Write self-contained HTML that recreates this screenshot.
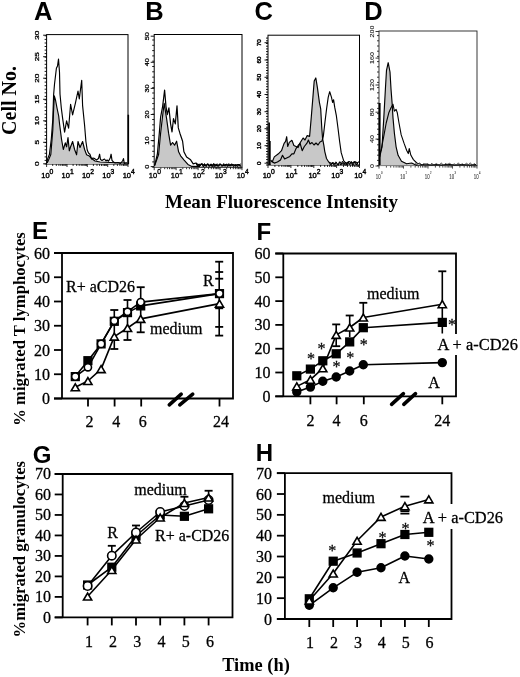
<!DOCTYPE html>
<html><head><meta charset="utf-8"><style>
html,body{margin:0;padding:0;background:#fff;}
svg{display:block;will-change:transform;}
</style></head><body>
<svg width="520" height="677" viewBox="0 0 520 677">
<rect width="520" height="677" fill="#fff"/>
<text x="33.9" y="20.4" font-family='"Liberation Sans", sans-serif' font-size="25.5" font-weight="bold" text-anchor="start" >A</text>
<text x="145.2" y="19.6" font-family='"Liberation Sans", sans-serif' font-size="25.5" font-weight="bold" text-anchor="start" >B</text>
<text x="254.6" y="19.6" font-family='"Liberation Sans", sans-serif' font-size="25.5" font-weight="bold" text-anchor="start" >C</text>
<text x="364.3" y="19.5" font-family='"Liberation Sans", sans-serif' font-size="25.5" font-weight="bold" text-anchor="start" >D</text>
<text x="32" y="238.8" font-family='"Liberation Sans", sans-serif' font-size="24" font-weight="bold" text-anchor="start" >E</text>
<text x="256.6" y="240.1" font-family='"Liberation Sans", sans-serif' font-size="24" font-weight="bold" text-anchor="start" >F</text>
<text x="32.8" y="462.6" font-family='"Liberation Sans", sans-serif' font-size="24" font-weight="bold" text-anchor="start" >G</text>
<text x="255.8" y="461.0" font-family='"Liberation Sans", sans-serif' font-size="24" font-weight="bold" text-anchor="start" >H</text>
<rect x="46.6" y="34.6" width="81.4" height="129.4" fill="none" stroke="#000" stroke-width="1.0"/>
<line x1="44.6" y1="164" x2="46.6" y2="164" stroke="#000" stroke-width="0.9"/>
<line x1="44.6" y1="160.4" x2="46.6" y2="160.4" stroke="#000" stroke-width="0.9"/>
<line x1="44.6" y1="156.9" x2="46.6" y2="156.9" stroke="#000" stroke-width="0.9"/>
<line x1="44.6" y1="153.3" x2="46.6" y2="153.3" stroke="#000" stroke-width="0.9"/>
<line x1="44.6" y1="149.8" x2="46.6" y2="149.8" stroke="#000" stroke-width="0.9"/>
<line x1="44.6" y1="146.2" x2="46.6" y2="146.2" stroke="#000" stroke-width="0.9"/>
<line x1="44.6" y1="142.6" x2="46.6" y2="142.6" stroke="#000" stroke-width="0.9"/>
<line x1="44.6" y1="139.1" x2="46.6" y2="139.1" stroke="#000" stroke-width="0.9"/>
<line x1="44.6" y1="135.5" x2="46.6" y2="135.5" stroke="#000" stroke-width="0.9"/>
<line x1="44.6" y1="132.0" x2="46.6" y2="132.0" stroke="#000" stroke-width="0.9"/>
<line x1="44.6" y1="128.4" x2="46.6" y2="128.4" stroke="#000" stroke-width="0.9"/>
<line x1="44.6" y1="124.8" x2="46.6" y2="124.8" stroke="#000" stroke-width="0.9"/>
<line x1="44.6" y1="121.3" x2="46.6" y2="121.3" stroke="#000" stroke-width="0.9"/>
<line x1="44.6" y1="117.7" x2="46.6" y2="117.7" stroke="#000" stroke-width="0.9"/>
<line x1="44.6" y1="114.2" x2="46.6" y2="114.2" stroke="#000" stroke-width="0.9"/>
<line x1="44.6" y1="110.6" x2="46.6" y2="110.6" stroke="#000" stroke-width="0.9"/>
<line x1="44.6" y1="107.0" x2="46.6" y2="107.0" stroke="#000" stroke-width="0.9"/>
<line x1="44.6" y1="103.5" x2="46.6" y2="103.5" stroke="#000" stroke-width="0.9"/>
<line x1="44.6" y1="99.9" x2="46.6" y2="99.9" stroke="#000" stroke-width="0.9"/>
<line x1="44.6" y1="96.4" x2="46.6" y2="96.4" stroke="#000" stroke-width="0.9"/>
<line x1="44.6" y1="92.8" x2="46.6" y2="92.8" stroke="#000" stroke-width="0.9"/>
<line x1="44.6" y1="89.2" x2="46.6" y2="89.2" stroke="#000" stroke-width="0.9"/>
<line x1="44.6" y1="85.7" x2="46.6" y2="85.7" stroke="#000" stroke-width="0.9"/>
<line x1="44.6" y1="82.1" x2="46.6" y2="82.1" stroke="#000" stroke-width="0.9"/>
<line x1="44.6" y1="78.6" x2="46.6" y2="78.6" stroke="#000" stroke-width="0.9"/>
<line x1="44.6" y1="75.0" x2="46.6" y2="75.0" stroke="#000" stroke-width="0.9"/>
<line x1="44.6" y1="71.4" x2="46.6" y2="71.4" stroke="#000" stroke-width="0.9"/>
<line x1="44.6" y1="67.9" x2="46.6" y2="67.9" stroke="#000" stroke-width="0.9"/>
<line x1="44.6" y1="64.3" x2="46.6" y2="64.3" stroke="#000" stroke-width="0.9"/>
<line x1="44.6" y1="60.8" x2="46.6" y2="60.8" stroke="#000" stroke-width="0.9"/>
<line x1="44.6" y1="57.2" x2="46.6" y2="57.2" stroke="#000" stroke-width="0.9"/>
<line x1="44.6" y1="53.6" x2="46.6" y2="53.6" stroke="#000" stroke-width="0.9"/>
<line x1="44.6" y1="50.1" x2="46.6" y2="50.1" stroke="#000" stroke-width="0.9"/>
<line x1="44.6" y1="46.5" x2="46.6" y2="46.5" stroke="#000" stroke-width="0.9"/>
<line x1="44.6" y1="43.0" x2="46.6" y2="43.0" stroke="#000" stroke-width="0.9"/>
<line x1="44.6" y1="39.4" x2="46.6" y2="39.4" stroke="#000" stroke-width="0.9"/>
<line x1="44.6" y1="35.8" x2="46.6" y2="35.8" stroke="#000" stroke-width="0.9"/>
<text transform="translate(37.6,35.2) rotate(-90) scale(1,0.72)" font-family='"Liberation Sans", sans-serif' font-size="8.2" text-anchor="middle" dominant-baseline="central" fill="#000" stroke="#000" stroke-width="0.4">30</text>
<line x1="43.1" y1="35.2" x2="46.6" y2="35.2" stroke="#000" stroke-width="0.9"/>
<text transform="translate(37.6,56.7) rotate(-90) scale(1,0.72)" font-family='"Liberation Sans", sans-serif' font-size="8.2" text-anchor="middle" dominant-baseline="central" fill="#000" stroke="#000" stroke-width="0.4">25</text>
<line x1="43.1" y1="56.7" x2="46.6" y2="56.7" stroke="#000" stroke-width="0.9"/>
<text transform="translate(37.6,78.2) rotate(-90) scale(1,0.72)" font-family='"Liberation Sans", sans-serif' font-size="8.2" text-anchor="middle" dominant-baseline="central" fill="#000" stroke="#000" stroke-width="0.4">20</text>
<line x1="43.1" y1="78.2" x2="46.6" y2="78.2" stroke="#000" stroke-width="0.9"/>
<text transform="translate(37.6,99.3) rotate(-90) scale(1,0.72)" font-family='"Liberation Sans", sans-serif' font-size="8.2" text-anchor="middle" dominant-baseline="central" fill="#000" stroke="#000" stroke-width="0.4">15</text>
<line x1="43.1" y1="99.3" x2="46.6" y2="99.3" stroke="#000" stroke-width="0.9"/>
<text transform="translate(37.6,120.8) rotate(-90) scale(1,0.72)" font-family='"Liberation Sans", sans-serif' font-size="8.2" text-anchor="middle" dominant-baseline="central" fill="#000" stroke="#000" stroke-width="0.4">10</text>
<line x1="43.1" y1="120.8" x2="46.6" y2="120.8" stroke="#000" stroke-width="0.9"/>
<text transform="translate(37.6,142.3) rotate(-90) scale(1,0.72)" font-family='"Liberation Sans", sans-serif' font-size="8.2" text-anchor="middle" dominant-baseline="central" fill="#000" stroke="#000" stroke-width="0.4">5</text>
<line x1="43.1" y1="142.3" x2="46.6" y2="142.3" stroke="#000" stroke-width="0.9"/>
<text transform="translate(37.6,163.8) rotate(-90) scale(1,0.72)" font-family='"Liberation Sans", sans-serif' font-size="8.2" text-anchor="middle" dominant-baseline="central" fill="#000" stroke="#000" stroke-width="0.4">0</text>
<line x1="43.1" y1="163.8" x2="46.6" y2="163.8" stroke="#000" stroke-width="0.9"/>
<line x1="46.6" y1="164" x2="46.6" y2="167" stroke="#000" stroke-width="0.8"/>
<line x1="52.7" y1="164" x2="52.7" y2="166" stroke="#000" stroke-width="0.8"/>
<line x1="56.3" y1="164" x2="56.3" y2="166" stroke="#000" stroke-width="0.8"/>
<line x1="58.9" y1="164" x2="58.9" y2="166" stroke="#000" stroke-width="0.8"/>
<line x1="60.8" y1="164" x2="60.8" y2="166" stroke="#000" stroke-width="0.8"/>
<line x1="62.4" y1="164" x2="62.4" y2="166" stroke="#000" stroke-width="0.8"/>
<line x1="63.8" y1="164" x2="63.8" y2="166" stroke="#000" stroke-width="0.8"/>
<line x1="65.0" y1="164" x2="65.0" y2="166" stroke="#000" stroke-width="0.8"/>
<line x1="66.0" y1="164" x2="66.0" y2="166" stroke="#000" stroke-width="0.8"/>
<line x1="67.0" y1="164" x2="67.0" y2="167" stroke="#000" stroke-width="0.8"/>
<line x1="73.1" y1="164" x2="73.1" y2="166" stroke="#000" stroke-width="0.8"/>
<line x1="76.7" y1="164" x2="76.7" y2="166" stroke="#000" stroke-width="0.8"/>
<line x1="79.2" y1="164" x2="79.2" y2="166" stroke="#000" stroke-width="0.8"/>
<line x1="81.2" y1="164" x2="81.2" y2="166" stroke="#000" stroke-width="0.8"/>
<line x1="82.8" y1="164" x2="82.8" y2="166" stroke="#000" stroke-width="0.8"/>
<line x1="84.1" y1="164" x2="84.1" y2="166" stroke="#000" stroke-width="0.8"/>
<line x1="85.3" y1="164" x2="85.3" y2="166" stroke="#000" stroke-width="0.8"/>
<line x1="86.4" y1="164" x2="86.4" y2="166" stroke="#000" stroke-width="0.8"/>
<line x1="87.3" y1="164" x2="87.3" y2="167" stroke="#000" stroke-width="0.8"/>
<line x1="93.4" y1="164" x2="93.4" y2="166" stroke="#000" stroke-width="0.8"/>
<line x1="97.0" y1="164" x2="97.0" y2="166" stroke="#000" stroke-width="0.8"/>
<line x1="99.6" y1="164" x2="99.6" y2="166" stroke="#000" stroke-width="0.8"/>
<line x1="101.5" y1="164" x2="101.5" y2="166" stroke="#000" stroke-width="0.8"/>
<line x1="103.1" y1="164" x2="103.1" y2="166" stroke="#000" stroke-width="0.8"/>
<line x1="104.5" y1="164" x2="104.5" y2="166" stroke="#000" stroke-width="0.8"/>
<line x1="105.7" y1="164" x2="105.7" y2="166" stroke="#000" stroke-width="0.8"/>
<line x1="106.7" y1="164" x2="106.7" y2="166" stroke="#000" stroke-width="0.8"/>
<line x1="107.7" y1="164" x2="107.7" y2="167" stroke="#000" stroke-width="0.8"/>
<line x1="113.8" y1="164" x2="113.8" y2="166" stroke="#000" stroke-width="0.8"/>
<line x1="117.4" y1="164" x2="117.4" y2="166" stroke="#000" stroke-width="0.8"/>
<line x1="119.9" y1="164" x2="119.9" y2="166" stroke="#000" stroke-width="0.8"/>
<line x1="121.9" y1="164" x2="121.9" y2="166" stroke="#000" stroke-width="0.8"/>
<line x1="123.5" y1="164" x2="123.5" y2="166" stroke="#000" stroke-width="0.8"/>
<line x1="124.8" y1="164" x2="124.8" y2="166" stroke="#000" stroke-width="0.8"/>
<line x1="126.0" y1="164" x2="126.0" y2="166" stroke="#000" stroke-width="0.8"/>
<line x1="127.1" y1="164" x2="127.1" y2="166" stroke="#000" stroke-width="0.8"/>
<line x1="128" y1="164" x2="128" y2="167" stroke="#000" stroke-width="0.8"/>
<text transform="translate(45.4,177.8) scale(1.0,1)" font-family='"Liberation Sans", sans-serif' font-size="7.5" text-anchor="middle" fill="#000" stroke="#000" stroke-width="0.4">10</text>
<text transform="translate(51.4,173.5) scale(1.0,1)" font-family='"Liberation Sans", sans-serif' font-size="6.75" text-anchor="middle" fill="#000" stroke="#000" stroke-width="0.4">0</text>
<text transform="translate(65.75,177.8) scale(1.0,1)" font-family='"Liberation Sans", sans-serif' font-size="7.5" text-anchor="middle" fill="#000" stroke="#000" stroke-width="0.4">10</text>
<text transform="translate(71.75,173.5) scale(1.0,1)" font-family='"Liberation Sans", sans-serif' font-size="6.75" text-anchor="middle" fill="#000" stroke="#000" stroke-width="0.4">1</text>
<text transform="translate(86.10000000000001,177.8) scale(1.0,1)" font-family='"Liberation Sans", sans-serif' font-size="7.5" text-anchor="middle" fill="#000" stroke="#000" stroke-width="0.4">10</text>
<text transform="translate(92.10000000000001,173.5) scale(1.0,1)" font-family='"Liberation Sans", sans-serif' font-size="6.75" text-anchor="middle" fill="#000" stroke="#000" stroke-width="0.4">2</text>
<text transform="translate(106.45,177.8) scale(1.0,1)" font-family='"Liberation Sans", sans-serif' font-size="7.5" text-anchor="middle" fill="#000" stroke="#000" stroke-width="0.4">10</text>
<text transform="translate(112.45,173.5) scale(1.0,1)" font-family='"Liberation Sans", sans-serif' font-size="6.75" text-anchor="middle" fill="#000" stroke="#000" stroke-width="0.4">3</text>
<text transform="translate(126.8,177.8) scale(1.0,1)" font-family='"Liberation Sans", sans-serif' font-size="7.5" text-anchor="middle" fill="#000" stroke="#000" stroke-width="0.4">10</text>
<text transform="translate(132.8,173.5) scale(1.0,1)" font-family='"Liberation Sans", sans-serif' font-size="6.75" text-anchor="middle" fill="#000" stroke="#000" stroke-width="0.4">4</text>
<polygon points="47.0,164.0 47.0,163.0 48.4,160.4 50.8,154.5 52.8,130.0 53.5,112.0 54.3,95.8 55.5,100.0 57.0,108.0 58.7,116.0 59.6,124.3 61.5,139.0 63.3,149.5 65.3,142.8 66.6,146.8 68.0,137.5 69.3,150.8 70.6,146.8 72.6,141.5 74.6,149.5 76.6,154.8 78.0,141.5 80.0,147.5 82.6,141.5 84.6,149.5 86.6,154.8 89.3,156.1 91.9,158.8 95.0,161.0 100.0,162.0 110.0,162.5 127.0,163.0 127.0,164.0" fill="#c8c8c8" stroke="none" stroke-width="0" stroke-linejoin="round"/>
<polyline points="47.0,163.0 48.4,160.4 50.8,154.5 52.8,130.0 53.5,112.0 54.3,95.8 55.5,100.0 57.0,108.0 58.7,116.0 59.6,124.3 61.5,139.0 63.3,149.5 65.3,142.8 66.6,146.8 68.0,137.5 69.3,150.8 70.6,146.8 72.6,141.5 74.6,149.5 76.6,154.8 78.0,141.5 80.0,147.5 82.6,141.5 84.6,149.5 86.6,154.8 89.3,156.1 91.9,158.8 95.0,161.0 100.0,162.0 110.0,162.5 127.0,163.0" fill="none" stroke="#000" stroke-width="1.15" stroke-linejoin="round"/>
<polyline points="47.0,163.0 47.4,159.4 49.4,154.5 51.3,139.0 52.8,119.5 53.6,95.0 54.5,84.3 56.4,68.3 57.5,66.0 58.5,59.0 59.5,72.3 60.0,94.0 61.3,108.0 62.7,118.9 64.6,132.2 66.6,120.9 68.6,128.2 70.6,104.3 72.6,114.9 75.3,103.6 78.0,91.0 79.3,98.9 81.7,80.3 82.6,105.6 84.6,125.5 85.9,141.5 87.2,150.0 88.5,153.0 89.9,154.2 91.6,159.0 93.0,158.0 94.7,158.6 96.5,160.0 98.5,158.5 99.6,154.2 100.5,159.5 102.0,160.5 104.5,159.0 106.0,161.0 107.1,160.0 108.5,161.2 110.2,158.0 111.1,154.2 112.0,160.4 113.5,162.0 115.1,163.0 118.0,162.5 120.4,163.5 122.5,161.0 123.5,158.6 124.3,163.5 126.0,163.0 127.5,163.0" fill="none" stroke="#000" stroke-width="1.15" stroke-linejoin="round"/>
<line x1="128.3" y1="114.7" x2="128.3" y2="164" stroke="#000" stroke-width="1.6"/>
<rect x="154.2" y="34.5" width="87.80000000000001" height="132.7" fill="none" stroke="#000" stroke-width="1.0"/>
<line x1="152.2" y1="167.2" x2="154.2" y2="167.2" stroke="#000" stroke-width="0.9"/>
<line x1="152.2" y1="161.9" x2="154.2" y2="161.9" stroke="#000" stroke-width="0.9"/>
<line x1="152.2" y1="156.6" x2="154.2" y2="156.6" stroke="#000" stroke-width="0.9"/>
<line x1="152.2" y1="151.3" x2="154.2" y2="151.3" stroke="#000" stroke-width="0.9"/>
<line x1="152.2" y1="146.0" x2="154.2" y2="146.0" stroke="#000" stroke-width="0.9"/>
<line x1="152.2" y1="140.7" x2="154.2" y2="140.7" stroke="#000" stroke-width="0.9"/>
<line x1="152.2" y1="135.4" x2="154.2" y2="135.4" stroke="#000" stroke-width="0.9"/>
<line x1="152.2" y1="130.1" x2="154.2" y2="130.1" stroke="#000" stroke-width="0.9"/>
<line x1="152.2" y1="124.8" x2="154.2" y2="124.8" stroke="#000" stroke-width="0.9"/>
<line x1="152.2" y1="119.5" x2="154.2" y2="119.5" stroke="#000" stroke-width="0.9"/>
<line x1="152.2" y1="114.2" x2="154.2" y2="114.2" stroke="#000" stroke-width="0.9"/>
<line x1="152.2" y1="108.9" x2="154.2" y2="108.9" stroke="#000" stroke-width="0.9"/>
<line x1="152.2" y1="103.6" x2="154.2" y2="103.6" stroke="#000" stroke-width="0.9"/>
<line x1="152.2" y1="98.3" x2="154.2" y2="98.3" stroke="#000" stroke-width="0.9"/>
<line x1="152.2" y1="93.0" x2="154.2" y2="93.0" stroke="#000" stroke-width="0.9"/>
<line x1="152.2" y1="87.7" x2="154.2" y2="87.7" stroke="#000" stroke-width="0.9"/>
<line x1="152.2" y1="82.4" x2="154.2" y2="82.4" stroke="#000" stroke-width="0.9"/>
<line x1="152.2" y1="77.1" x2="154.2" y2="77.1" stroke="#000" stroke-width="0.9"/>
<line x1="152.2" y1="71.8" x2="154.2" y2="71.8" stroke="#000" stroke-width="0.9"/>
<line x1="152.2" y1="66.5" x2="154.2" y2="66.5" stroke="#000" stroke-width="0.9"/>
<line x1="152.2" y1="61.2" x2="154.2" y2="61.2" stroke="#000" stroke-width="0.9"/>
<line x1="152.2" y1="55.9" x2="154.2" y2="55.9" stroke="#000" stroke-width="0.9"/>
<line x1="152.2" y1="50.6" x2="154.2" y2="50.6" stroke="#000" stroke-width="0.9"/>
<line x1="152.2" y1="45.3" x2="154.2" y2="45.3" stroke="#000" stroke-width="0.9"/>
<line x1="152.2" y1="40.0" x2="154.2" y2="40.0" stroke="#000" stroke-width="0.9"/>
<text transform="translate(146.4,36.2) rotate(-90) scale(1,0.75)" font-family='"Liberation Sans", sans-serif' font-size="7.3" text-anchor="middle" dominant-baseline="central" fill="#000" stroke="#000" stroke-width="0.35">50</text>
<line x1="150.7" y1="36.2" x2="154.2" y2="36.2" stroke="#000" stroke-width="0.9"/>
<text transform="translate(146.4,62.3) rotate(-90) scale(1,0.75)" font-family='"Liberation Sans", sans-serif' font-size="7.3" text-anchor="middle" dominant-baseline="central" fill="#000" stroke="#000" stroke-width="0.35">40</text>
<line x1="150.7" y1="62.3" x2="154.2" y2="62.3" stroke="#000" stroke-width="0.9"/>
<text transform="translate(146.4,88.4) rotate(-90) scale(1,0.75)" font-family='"Liberation Sans", sans-serif' font-size="7.3" text-anchor="middle" dominant-baseline="central" fill="#000" stroke="#000" stroke-width="0.35">30</text>
<line x1="150.7" y1="88.4" x2="154.2" y2="88.4" stroke="#000" stroke-width="0.9"/>
<text transform="translate(146.4,114.5) rotate(-90) scale(1,0.75)" font-family='"Liberation Sans", sans-serif' font-size="7.3" text-anchor="middle" dominant-baseline="central" fill="#000" stroke="#000" stroke-width="0.35">20</text>
<line x1="150.7" y1="114.5" x2="154.2" y2="114.5" stroke="#000" stroke-width="0.9"/>
<text transform="translate(146.4,140.6) rotate(-90) scale(1,0.75)" font-family='"Liberation Sans", sans-serif' font-size="7.3" text-anchor="middle" dominant-baseline="central" fill="#000" stroke="#000" stroke-width="0.35">10</text>
<line x1="150.7" y1="140.6" x2="154.2" y2="140.6" stroke="#000" stroke-width="0.9"/>
<text transform="translate(146.4,166.6) rotate(-90) scale(1,0.75)" font-family='"Liberation Sans", sans-serif' font-size="7.3" text-anchor="middle" dominant-baseline="central" fill="#000" stroke="#000" stroke-width="0.35">0</text>
<line x1="150.7" y1="166.6" x2="154.2" y2="166.6" stroke="#000" stroke-width="0.9"/>
<line x1="154.2" y1="167.2" x2="154.2" y2="170.2" stroke="#000" stroke-width="0.8"/>
<line x1="160.8" y1="167.2" x2="160.8" y2="169.2" stroke="#000" stroke-width="0.8"/>
<line x1="164.7" y1="167.2" x2="164.7" y2="169.2" stroke="#000" stroke-width="0.8"/>
<line x1="167.4" y1="167.2" x2="167.4" y2="169.2" stroke="#000" stroke-width="0.8"/>
<line x1="169.5" y1="167.2" x2="169.5" y2="169.2" stroke="#000" stroke-width="0.8"/>
<line x1="171.3" y1="167.2" x2="171.3" y2="169.2" stroke="#000" stroke-width="0.8"/>
<line x1="172.7" y1="167.2" x2="172.7" y2="169.2" stroke="#000" stroke-width="0.8"/>
<line x1="174.0" y1="167.2" x2="174.0" y2="169.2" stroke="#000" stroke-width="0.8"/>
<line x1="175.1" y1="167.2" x2="175.1" y2="169.2" stroke="#000" stroke-width="0.8"/>
<line x1="176.1" y1="167.2" x2="176.1" y2="170.2" stroke="#000" stroke-width="0.8"/>
<line x1="182.8" y1="167.2" x2="182.8" y2="169.2" stroke="#000" stroke-width="0.8"/>
<line x1="186.6" y1="167.2" x2="186.6" y2="169.2" stroke="#000" stroke-width="0.8"/>
<line x1="189.4" y1="167.2" x2="189.4" y2="169.2" stroke="#000" stroke-width="0.8"/>
<line x1="191.5" y1="167.2" x2="191.5" y2="169.2" stroke="#000" stroke-width="0.8"/>
<line x1="193.2" y1="167.2" x2="193.2" y2="169.2" stroke="#000" stroke-width="0.8"/>
<line x1="194.7" y1="167.2" x2="194.7" y2="169.2" stroke="#000" stroke-width="0.8"/>
<line x1="196.0" y1="167.2" x2="196.0" y2="169.2" stroke="#000" stroke-width="0.8"/>
<line x1="197.1" y1="167.2" x2="197.1" y2="169.2" stroke="#000" stroke-width="0.8"/>
<line x1="198.1" y1="167.2" x2="198.1" y2="170.2" stroke="#000" stroke-width="0.8"/>
<line x1="204.7" y1="167.2" x2="204.7" y2="169.2" stroke="#000" stroke-width="0.8"/>
<line x1="208.6" y1="167.2" x2="208.6" y2="169.2" stroke="#000" stroke-width="0.8"/>
<line x1="211.3" y1="167.2" x2="211.3" y2="169.2" stroke="#000" stroke-width="0.8"/>
<line x1="213.4" y1="167.2" x2="213.4" y2="169.2" stroke="#000" stroke-width="0.8"/>
<line x1="215.2" y1="167.2" x2="215.2" y2="169.2" stroke="#000" stroke-width="0.8"/>
<line x1="216.6" y1="167.2" x2="216.6" y2="169.2" stroke="#000" stroke-width="0.8"/>
<line x1="217.9" y1="167.2" x2="217.9" y2="169.2" stroke="#000" stroke-width="0.8"/>
<line x1="219.0" y1="167.2" x2="219.0" y2="169.2" stroke="#000" stroke-width="0.8"/>
<line x1="220.1" y1="167.2" x2="220.1" y2="170.2" stroke="#000" stroke-width="0.8"/>
<line x1="226.7" y1="167.2" x2="226.7" y2="169.2" stroke="#000" stroke-width="0.8"/>
<line x1="230.5" y1="167.2" x2="230.5" y2="169.2" stroke="#000" stroke-width="0.8"/>
<line x1="233.3" y1="167.2" x2="233.3" y2="169.2" stroke="#000" stroke-width="0.8"/>
<line x1="235.4" y1="167.2" x2="235.4" y2="169.2" stroke="#000" stroke-width="0.8"/>
<line x1="237.1" y1="167.2" x2="237.1" y2="169.2" stroke="#000" stroke-width="0.8"/>
<line x1="238.6" y1="167.2" x2="238.6" y2="169.2" stroke="#000" stroke-width="0.8"/>
<line x1="239.9" y1="167.2" x2="239.9" y2="169.2" stroke="#000" stroke-width="0.8"/>
<line x1="241.0" y1="167.2" x2="241.0" y2="169.2" stroke="#000" stroke-width="0.8"/>
<line x1="242" y1="167.2" x2="242" y2="170.2" stroke="#000" stroke-width="0.8"/>
<text transform="translate(153.0,178.2) scale(1.0,1)" font-family='"Liberation Sans", sans-serif' font-size="7.5" text-anchor="middle" fill="#000" stroke="#000" stroke-width="0.35">10</text>
<text transform="translate(159.0,173.89999999999998) scale(1.0,1)" font-family='"Liberation Sans", sans-serif' font-size="6.75" text-anchor="middle" fill="#000" stroke="#000" stroke-width="0.35">0</text>
<text transform="translate(174.95,178.2) scale(1.0,1)" font-family='"Liberation Sans", sans-serif' font-size="7.5" text-anchor="middle" fill="#000" stroke="#000" stroke-width="0.35">10</text>
<text transform="translate(180.95,173.89999999999998) scale(1.0,1)" font-family='"Liberation Sans", sans-serif' font-size="6.75" text-anchor="middle" fill="#000" stroke="#000" stroke-width="0.35">1</text>
<text transform="translate(196.9,178.2) scale(1.0,1)" font-family='"Liberation Sans", sans-serif' font-size="7.5" text-anchor="middle" fill="#000" stroke="#000" stroke-width="0.35">10</text>
<text transform="translate(202.9,173.89999999999998) scale(1.0,1)" font-family='"Liberation Sans", sans-serif' font-size="6.75" text-anchor="middle" fill="#000" stroke="#000" stroke-width="0.35">2</text>
<text transform="translate(218.85000000000002,178.2) scale(1.0,1)" font-family='"Liberation Sans", sans-serif' font-size="7.5" text-anchor="middle" fill="#000" stroke="#000" stroke-width="0.35">10</text>
<text transform="translate(224.85000000000002,173.89999999999998) scale(1.0,1)" font-family='"Liberation Sans", sans-serif' font-size="6.75" text-anchor="middle" fill="#000" stroke="#000" stroke-width="0.35">3</text>
<text transform="translate(240.8,178.2) scale(1.0,1)" font-family='"Liberation Sans", sans-serif' font-size="7.5" text-anchor="middle" fill="#000" stroke="#000" stroke-width="0.35">10</text>
<text transform="translate(246.8,173.89999999999998) scale(1.0,1)" font-family='"Liberation Sans", sans-serif' font-size="6.75" text-anchor="middle" fill="#000" stroke="#000" stroke-width="0.35">4</text>
<polygon points="154.5,167.2 154.5,166.0 158.6,154.5 160.6,133.2 162.6,115.9 164.2,103.3 166.6,118.6 168.6,133.2 170.6,145.2 172.6,142.5 174.6,145.2 176.6,141.2 178.6,151.8 180.6,155.8 183.9,159.8 187.9,164.4 191.9,166.4 200.0,166.6 200.0,167.2" fill="#c8c8c8" stroke="none" stroke-width="0" stroke-linejoin="round"/>
<polyline points="154.5,166.0 158.6,154.5 160.6,133.2 162.6,115.9 164.2,103.3 166.6,118.6 168.6,133.2 170.6,145.2 172.6,142.5 174.6,145.2 176.6,141.2 178.6,151.8 180.6,155.8 183.9,159.8 187.9,164.4 191.9,166.4 200.0,166.6" fill="none" stroke="#000" stroke-width="1.15" stroke-linejoin="round"/>
<polyline points="154.7,165.1 157.3,154.5 159.3,133.2 160.6,117.2 162.6,106.6 164.6,90.0 166.0,106.6 167.3,114.6 168.9,107.9 170.6,123.9 172.0,131.9 173.5,118.6 175.3,123.9 177.0,105.9 178.3,127.9 179.9,133.2 182.6,141.2 183.9,151.8 186.6,157.1 190.6,159.8 193.2,163.8 196.0,163.0 199.0,165.5 202.0,164.3 205.0,165.6 208.0,164.5 211.0,165.6 214.0,164.4 217.0,165.6 220.0,164.5 223.0,165.6 226.0,164.5 229.0,165.6 232.0,164.6 235.0,165.6 238.0,164.5 241.0,165.3" fill="none" stroke="#000" stroke-width="1.2" stroke-linejoin="round"/>
<polyline points="196.0,163.3 197.5,166.2 199.1,163.8 200.2,165.8 202.0,163.3 203.3,167.0 204.8,164.0 206.3,166.6 207.4,163.8 209.3,166.4 211.0,163.8 212.1,166.7 213.7,163.4 214.8,166.8 216.2,163.9 218.1,166.7 220.0,163.5 221.7,166.3 223.6,164.1 224.8,166.0 226.0,164.2 227.4,166.6 228.8,163.6 230.2,166.2 231.7,163.7 233.6,166.6 235.5,164.0 237.4,166.6 238.6,164.0 240.5,166.9" fill="none" stroke="#000" stroke-width="1.0" stroke-linejoin="round"/>
<polyline points="197.0,166.0 198.3,164.2 199.6,166.2 201.2,163.5 202.9,165.6 204.5,163.5 205.8,166.1 207.8,163.5 209.2,166.4 211.4,164.1 213.0,166.8 214.2,164.4 215.7,165.8 217.0,163.8 219.1,165.8 220.8,164.2 222.4,166.3 223.7,163.5 225.1,166.4 226.7,163.8 228.5,166.1 230.0,164.4 231.9,165.9 233.6,164.0 235.7,166.5 237.2,164.6 238.5,166.1 240.5,163.6" fill="none" stroke="#000" stroke-width="0.9" stroke-linejoin="round"/>
<rect x="268" y="35.2" width="91.5" height="129.8" fill="none" stroke="#000" stroke-width="1.0"/>
<line x1="266.0" y1="165" x2="268" y2="165" stroke="#000" stroke-width="0.9"/>
<line x1="266.0" y1="162.3" x2="268" y2="162.3" stroke="#000" stroke-width="0.9"/>
<line x1="266.0" y1="159.6" x2="268" y2="159.6" stroke="#000" stroke-width="0.9"/>
<line x1="266.0" y1="156.9" x2="268" y2="156.9" stroke="#000" stroke-width="0.9"/>
<line x1="266.0" y1="154.2" x2="268" y2="154.2" stroke="#000" stroke-width="0.9"/>
<line x1="266.0" y1="151.5" x2="268" y2="151.5" stroke="#000" stroke-width="0.9"/>
<line x1="266.0" y1="148.8" x2="268" y2="148.8" stroke="#000" stroke-width="0.9"/>
<line x1="266.0" y1="146.1" x2="268" y2="146.1" stroke="#000" stroke-width="0.9"/>
<line x1="266.0" y1="143.4" x2="268" y2="143.4" stroke="#000" stroke-width="0.9"/>
<line x1="266.0" y1="140.7" x2="268" y2="140.7" stroke="#000" stroke-width="0.9"/>
<line x1="266.0" y1="138.0" x2="268" y2="138.0" stroke="#000" stroke-width="0.9"/>
<line x1="266.0" y1="135.3" x2="268" y2="135.3" stroke="#000" stroke-width="0.9"/>
<line x1="266.0" y1="132.6" x2="268" y2="132.6" stroke="#000" stroke-width="0.9"/>
<line x1="266.0" y1="129.9" x2="268" y2="129.9" stroke="#000" stroke-width="0.9"/>
<line x1="266.0" y1="127.2" x2="268" y2="127.2" stroke="#000" stroke-width="0.9"/>
<line x1="266.0" y1="124.5" x2="268" y2="124.5" stroke="#000" stroke-width="0.9"/>
<line x1="266.0" y1="121.8" x2="268" y2="121.8" stroke="#000" stroke-width="0.9"/>
<line x1="266.0" y1="119.1" x2="268" y2="119.1" stroke="#000" stroke-width="0.9"/>
<line x1="266.0" y1="116.4" x2="268" y2="116.4" stroke="#000" stroke-width="0.9"/>
<line x1="266.0" y1="113.7" x2="268" y2="113.7" stroke="#000" stroke-width="0.9"/>
<line x1="266.0" y1="111.0" x2="268" y2="111.0" stroke="#000" stroke-width="0.9"/>
<line x1="266.0" y1="108.3" x2="268" y2="108.3" stroke="#000" stroke-width="0.9"/>
<line x1="266.0" y1="105.6" x2="268" y2="105.6" stroke="#000" stroke-width="0.9"/>
<line x1="266.0" y1="102.9" x2="268" y2="102.9" stroke="#000" stroke-width="0.9"/>
<line x1="266.0" y1="100.2" x2="268" y2="100.2" stroke="#000" stroke-width="0.9"/>
<line x1="266.0" y1="97.5" x2="268" y2="97.5" stroke="#000" stroke-width="0.9"/>
<line x1="266.0" y1="94.8" x2="268" y2="94.8" stroke="#000" stroke-width="0.9"/>
<line x1="266.0" y1="92.1" x2="268" y2="92.1" stroke="#000" stroke-width="0.9"/>
<line x1="266.0" y1="89.4" x2="268" y2="89.4" stroke="#000" stroke-width="0.9"/>
<line x1="266.0" y1="86.7" x2="268" y2="86.7" stroke="#000" stroke-width="0.9"/>
<line x1="266.0" y1="84.0" x2="268" y2="84.0" stroke="#000" stroke-width="0.9"/>
<line x1="266.0" y1="81.3" x2="268" y2="81.3" stroke="#000" stroke-width="0.9"/>
<line x1="266.0" y1="78.6" x2="268" y2="78.6" stroke="#000" stroke-width="0.9"/>
<line x1="266.0" y1="75.9" x2="268" y2="75.9" stroke="#000" stroke-width="0.9"/>
<line x1="266.0" y1="73.2" x2="268" y2="73.2" stroke="#000" stroke-width="0.9"/>
<line x1="266.0" y1="70.5" x2="268" y2="70.5" stroke="#000" stroke-width="0.9"/>
<line x1="266.0" y1="67.8" x2="268" y2="67.8" stroke="#000" stroke-width="0.9"/>
<line x1="266.0" y1="65.1" x2="268" y2="65.1" stroke="#000" stroke-width="0.9"/>
<line x1="266.0" y1="62.4" x2="268" y2="62.4" stroke="#000" stroke-width="0.9"/>
<line x1="266.0" y1="59.7" x2="268" y2="59.7" stroke="#000" stroke-width="0.9"/>
<line x1="266.0" y1="57.0" x2="268" y2="57.0" stroke="#000" stroke-width="0.9"/>
<line x1="266.0" y1="54.3" x2="268" y2="54.3" stroke="#000" stroke-width="0.9"/>
<line x1="266.0" y1="51.6" x2="268" y2="51.6" stroke="#000" stroke-width="0.9"/>
<line x1="266.0" y1="48.9" x2="268" y2="48.9" stroke="#000" stroke-width="0.9"/>
<line x1="266.0" y1="46.2" x2="268" y2="46.2" stroke="#000" stroke-width="0.9"/>
<line x1="266.0" y1="43.5" x2="268" y2="43.5" stroke="#000" stroke-width="0.9"/>
<line x1="266.0" y1="40.8" x2="268" y2="40.8" stroke="#000" stroke-width="0.9"/>
<line x1="266.0" y1="38.1" x2="268" y2="38.1" stroke="#000" stroke-width="0.9"/>
<text transform="translate(258.8,42.7) rotate(-90) scale(1,0.9)" font-family='"Liberation Sans", sans-serif' font-size="6.4" text-anchor="middle" dominant-baseline="central" fill="#000" stroke="#000" stroke-width="0.4">70</text>
<line x1="264.5" y1="42.7" x2="268" y2="42.7" stroke="#000" stroke-width="0.9"/>
<text transform="translate(258.8,60) rotate(-90) scale(1,0.9)" font-family='"Liberation Sans", sans-serif' font-size="6.4" text-anchor="middle" dominant-baseline="central" fill="#000" stroke="#000" stroke-width="0.4">60</text>
<line x1="264.5" y1="60" x2="268" y2="60" stroke="#000" stroke-width="0.9"/>
<text transform="translate(258.8,77.3) rotate(-90) scale(1,0.9)" font-family='"Liberation Sans", sans-serif' font-size="6.4" text-anchor="middle" dominant-baseline="central" fill="#000" stroke="#000" stroke-width="0.4">50</text>
<line x1="264.5" y1="77.3" x2="268" y2="77.3" stroke="#000" stroke-width="0.9"/>
<text transform="translate(258.8,94.5) rotate(-90) scale(1,0.9)" font-family='"Liberation Sans", sans-serif' font-size="6.4" text-anchor="middle" dominant-baseline="central" fill="#000" stroke="#000" stroke-width="0.4">40</text>
<line x1="264.5" y1="94.5" x2="268" y2="94.5" stroke="#000" stroke-width="0.9"/>
<text transform="translate(258.8,111.7) rotate(-90) scale(1,0.9)" font-family='"Liberation Sans", sans-serif' font-size="6.4" text-anchor="middle" dominant-baseline="central" fill="#000" stroke="#000" stroke-width="0.4">30</text>
<line x1="264.5" y1="111.7" x2="268" y2="111.7" stroke="#000" stroke-width="0.9"/>
<text transform="translate(258.8,128.7) rotate(-90) scale(1,0.9)" font-family='"Liberation Sans", sans-serif' font-size="6.4" text-anchor="middle" dominant-baseline="central" fill="#000" stroke="#000" stroke-width="0.4">20</text>
<line x1="264.5" y1="128.7" x2="268" y2="128.7" stroke="#000" stroke-width="0.9"/>
<text transform="translate(258.8,145.7) rotate(-90) scale(1,0.9)" font-family='"Liberation Sans", sans-serif' font-size="6.4" text-anchor="middle" dominant-baseline="central" fill="#000" stroke="#000" stroke-width="0.4">10</text>
<line x1="264.5" y1="145.7" x2="268" y2="145.7" stroke="#000" stroke-width="0.9"/>
<text transform="translate(258.8,163.2) rotate(-90) scale(1,0.9)" font-family='"Liberation Sans", sans-serif' font-size="6.4" text-anchor="middle" dominant-baseline="central" fill="#000" stroke="#000" stroke-width="0.4">0</text>
<line x1="264.5" y1="163.2" x2="268" y2="163.2" stroke="#000" stroke-width="0.9"/>
<line x1="268.0" y1="165" x2="268.0" y2="168" stroke="#000" stroke-width="0.8"/>
<line x1="274.9" y1="165" x2="274.9" y2="167" stroke="#000" stroke-width="0.8"/>
<line x1="278.9" y1="165" x2="278.9" y2="167" stroke="#000" stroke-width="0.8"/>
<line x1="281.8" y1="165" x2="281.8" y2="167" stroke="#000" stroke-width="0.8"/>
<line x1="284.0" y1="165" x2="284.0" y2="167" stroke="#000" stroke-width="0.8"/>
<line x1="285.8" y1="165" x2="285.8" y2="167" stroke="#000" stroke-width="0.8"/>
<line x1="287.3" y1="165" x2="287.3" y2="167" stroke="#000" stroke-width="0.8"/>
<line x1="288.7" y1="165" x2="288.7" y2="167" stroke="#000" stroke-width="0.8"/>
<line x1="289.8" y1="165" x2="289.8" y2="167" stroke="#000" stroke-width="0.8"/>
<line x1="290.9" y1="165" x2="290.9" y2="168" stroke="#000" stroke-width="0.8"/>
<line x1="297.8" y1="165" x2="297.8" y2="167" stroke="#000" stroke-width="0.8"/>
<line x1="301.8" y1="165" x2="301.8" y2="167" stroke="#000" stroke-width="0.8"/>
<line x1="304.6" y1="165" x2="304.6" y2="167" stroke="#000" stroke-width="0.8"/>
<line x1="306.9" y1="165" x2="306.9" y2="167" stroke="#000" stroke-width="0.8"/>
<line x1="308.7" y1="165" x2="308.7" y2="167" stroke="#000" stroke-width="0.8"/>
<line x1="310.2" y1="165" x2="310.2" y2="167" stroke="#000" stroke-width="0.8"/>
<line x1="311.5" y1="165" x2="311.5" y2="167" stroke="#000" stroke-width="0.8"/>
<line x1="312.7" y1="165" x2="312.7" y2="167" stroke="#000" stroke-width="0.8"/>
<line x1="313.8" y1="165" x2="313.8" y2="168" stroke="#000" stroke-width="0.8"/>
<line x1="320.6" y1="165" x2="320.6" y2="167" stroke="#000" stroke-width="0.8"/>
<line x1="324.7" y1="165" x2="324.7" y2="167" stroke="#000" stroke-width="0.8"/>
<line x1="327.5" y1="165" x2="327.5" y2="167" stroke="#000" stroke-width="0.8"/>
<line x1="329.7" y1="165" x2="329.7" y2="167" stroke="#000" stroke-width="0.8"/>
<line x1="331.6" y1="165" x2="331.6" y2="167" stroke="#000" stroke-width="0.8"/>
<line x1="333.1" y1="165" x2="333.1" y2="167" stroke="#000" stroke-width="0.8"/>
<line x1="334.4" y1="165" x2="334.4" y2="167" stroke="#000" stroke-width="0.8"/>
<line x1="335.6" y1="165" x2="335.6" y2="167" stroke="#000" stroke-width="0.8"/>
<line x1="336.6" y1="165" x2="336.6" y2="168" stroke="#000" stroke-width="0.8"/>
<line x1="343.5" y1="165" x2="343.5" y2="167" stroke="#000" stroke-width="0.8"/>
<line x1="347.5" y1="165" x2="347.5" y2="167" stroke="#000" stroke-width="0.8"/>
<line x1="350.4" y1="165" x2="350.4" y2="167" stroke="#000" stroke-width="0.8"/>
<line x1="352.6" y1="165" x2="352.6" y2="167" stroke="#000" stroke-width="0.8"/>
<line x1="354.4" y1="165" x2="354.4" y2="167" stroke="#000" stroke-width="0.8"/>
<line x1="356.0" y1="165" x2="356.0" y2="167" stroke="#000" stroke-width="0.8"/>
<line x1="357.3" y1="165" x2="357.3" y2="167" stroke="#000" stroke-width="0.8"/>
<line x1="358.5" y1="165" x2="358.5" y2="167" stroke="#000" stroke-width="0.8"/>
<line x1="359.5" y1="165" x2="359.5" y2="168" stroke="#000" stroke-width="0.8"/>
<text transform="translate(266.8,178.3) scale(1.0,1)" font-family='"Liberation Sans", sans-serif' font-size="7.5" text-anchor="middle" fill="#000" stroke="#000" stroke-width="0.4">10</text>
<text transform="translate(272.8,174.0) scale(1.0,1)" font-family='"Liberation Sans", sans-serif' font-size="6.75" text-anchor="middle" fill="#000" stroke="#000" stroke-width="0.4">0</text>
<text transform="translate(289.675,178.3) scale(1.0,1)" font-family='"Liberation Sans", sans-serif' font-size="7.5" text-anchor="middle" fill="#000" stroke="#000" stroke-width="0.4">10</text>
<text transform="translate(295.675,174.0) scale(1.0,1)" font-family='"Liberation Sans", sans-serif' font-size="6.75" text-anchor="middle" fill="#000" stroke="#000" stroke-width="0.4">1</text>
<text transform="translate(312.55,178.3) scale(1.0,1)" font-family='"Liberation Sans", sans-serif' font-size="7.5" text-anchor="middle" fill="#000" stroke="#000" stroke-width="0.4">10</text>
<text transform="translate(318.55,174.0) scale(1.0,1)" font-family='"Liberation Sans", sans-serif' font-size="6.75" text-anchor="middle" fill="#000" stroke="#000" stroke-width="0.4">2</text>
<text transform="translate(335.425,178.3) scale(1.0,1)" font-family='"Liberation Sans", sans-serif' font-size="7.5" text-anchor="middle" fill="#000" stroke="#000" stroke-width="0.4">10</text>
<text transform="translate(341.425,174.0) scale(1.0,1)" font-family='"Liberation Sans", sans-serif' font-size="6.75" text-anchor="middle" fill="#000" stroke="#000" stroke-width="0.4">3</text>
<text transform="translate(358.3,178.3) scale(1.0,1)" font-family='"Liberation Sans", sans-serif' font-size="7.5" text-anchor="middle" fill="#000" stroke="#000" stroke-width="0.4">10</text>
<text transform="translate(364.3,174.0) scale(1.0,1)" font-family='"Liberation Sans", sans-serif' font-size="6.75" text-anchor="middle" fill="#000" stroke="#000" stroke-width="0.4">4</text>
<polygon points="270.7,165.0 270.7,160.0 272.2,162.0 274.3,156.9 278.4,153.8 281.5,150.7 284.1,143.4 285.6,141.4 286.7,136.7 287.7,146.5 289.3,142.4 291.9,140.3 293.9,145.5 296.0,146.5 298.1,147.6 300.0,143.0 303.1,138.0 305.0,140.0 307.2,135.6 309.6,136.4 311.3,116.9 312.9,97.4 314.2,81.1 315.8,77.9 317.4,87.6 319.4,102.3 320.7,108.8 321.8,128.3 322.6,138.7 323.9,145.6 324.8,151.6 326.5,158.5 328.7,162.0 331.2,163.3 335.0,164.0 335.0,165.0" fill="#c8c8c8" stroke="none" stroke-width="0" stroke-linejoin="round"/>
<polyline points="270.7,160.0 272.2,162.0 274.3,156.9 278.4,153.8 281.5,150.7 284.1,143.4 285.6,141.4 286.7,136.7 287.7,146.5 289.3,142.4 291.9,140.3 293.9,145.5 296.0,146.5 298.1,147.6 300.0,143.0 303.1,138.0 305.0,140.0 307.2,135.6 309.6,136.4 311.3,116.9 312.9,97.4 314.2,81.1 315.8,77.9 317.4,87.6 319.4,102.3 320.7,108.8 321.8,128.3 322.6,138.7 323.9,145.6 324.8,151.6 326.5,158.5 328.7,162.0 331.2,163.3 335.0,164.0" fill="none" stroke="#000" stroke-width="1.15" stroke-linejoin="round"/>
<polyline points="271.2,161.0 274.3,163.1 277.4,162.0 280.5,160.0 282.5,155.3 284.6,158.9 286.7,157.9 289.8,156.4 291.9,153.8 293.9,153.8 296.0,148.6 298.1,145.5 300.1,143.4 302.2,150.7 304.3,146.5 306.8,143.4 308.4,140.0 310.0,144.0 312.0,142.5 314.0,145.0 316.0,143.0 318.0,145.0 320.0,142.0 322.0,141.0 323.3,136.4 325.0,121.8 326.6,108.8 328.2,97.4 329.7,91.7 331.5,97.4 332.6,102.5 333.6,99.8 334.7,107.2 336.3,115.3 338.0,128.3 339.6,141.3 341.2,152.7 343.7,160.8 346.1,163.5 349.0,161.5 352.0,163.0 355.0,161.8 358.0,163.0" fill="none" stroke="#000" stroke-width="1.15" stroke-linejoin="round"/>
<polyline points="329.0,161.9 330.8,165.4 332.9,162.1 334.9,164.4 336.4,162.3 338.2,165.5 339.4,161.8 340.8,165.1 342.4,161.2 343.8,164.7 345.8,162.1 347.0,165.4 348.3,161.9 349.5,164.4 351.5,161.5 352.8,165.6 354.8,161.5 356.8,165.0 358.6,161.4" fill="none" stroke="#000" stroke-width="1.0" stroke-linejoin="round"/>
<polyline points="330.0,164.7 332.0,162.7 333.8,164.8 335.8,161.8 337.7,165.0 340.0,161.7 341.7,164.3 343.9,162.4 345.3,165.4 347.7,162.4 349.7,164.4 351.1,162.2 352.5,164.4 354.1,161.6 356.0,164.7 358.2,162.2" fill="none" stroke="#000" stroke-width="0.9" stroke-linejoin="round"/>
<line x1="269.1" y1="122.4" x2="269.1" y2="141" stroke="#000" stroke-width="1.7"/>
<line x1="269.5" y1="141" x2="269.5" y2="165" stroke="#000" stroke-width="2.4"/>
<rect x="379" y="31" width="98" height="134.6" fill="none" stroke="#222" stroke-width="0.9"/>
<line x1="377.0" y1="165.6" x2="379" y2="165.6" stroke="#222" stroke-width="0.9"/>
<line x1="377.0" y1="160.4" x2="379" y2="160.4" stroke="#222" stroke-width="0.9"/>
<line x1="377.0" y1="155.2" x2="379" y2="155.2" stroke="#222" stroke-width="0.9"/>
<line x1="377.0" y1="150.0" x2="379" y2="150.0" stroke="#222" stroke-width="0.9"/>
<line x1="377.0" y1="144.8" x2="379" y2="144.8" stroke="#222" stroke-width="0.9"/>
<line x1="377.0" y1="139.6" x2="379" y2="139.6" stroke="#222" stroke-width="0.9"/>
<line x1="377.0" y1="134.4" x2="379" y2="134.4" stroke="#222" stroke-width="0.9"/>
<line x1="377.0" y1="129.2" x2="379" y2="129.2" stroke="#222" stroke-width="0.9"/>
<line x1="377.0" y1="124.0" x2="379" y2="124.0" stroke="#222" stroke-width="0.9"/>
<line x1="377.0" y1="118.8" x2="379" y2="118.8" stroke="#222" stroke-width="0.9"/>
<line x1="377.0" y1="113.6" x2="379" y2="113.6" stroke="#222" stroke-width="0.9"/>
<line x1="377.0" y1="108.4" x2="379" y2="108.4" stroke="#222" stroke-width="0.9"/>
<line x1="377.0" y1="103.2" x2="379" y2="103.2" stroke="#222" stroke-width="0.9"/>
<line x1="377.0" y1="98.0" x2="379" y2="98.0" stroke="#222" stroke-width="0.9"/>
<line x1="377.0" y1="92.8" x2="379" y2="92.8" stroke="#222" stroke-width="0.9"/>
<line x1="377.0" y1="87.6" x2="379" y2="87.6" stroke="#222" stroke-width="0.9"/>
<line x1="377.0" y1="82.4" x2="379" y2="82.4" stroke="#222" stroke-width="0.9"/>
<line x1="377.0" y1="77.2" x2="379" y2="77.2" stroke="#222" stroke-width="0.9"/>
<line x1="377.0" y1="72.0" x2="379" y2="72.0" stroke="#222" stroke-width="0.9"/>
<line x1="377.0" y1="66.8" x2="379" y2="66.8" stroke="#222" stroke-width="0.9"/>
<line x1="377.0" y1="61.6" x2="379" y2="61.6" stroke="#222" stroke-width="0.9"/>
<line x1="377.0" y1="56.4" x2="379" y2="56.4" stroke="#222" stroke-width="0.9"/>
<line x1="377.0" y1="51.2" x2="379" y2="51.2" stroke="#222" stroke-width="0.9"/>
<line x1="377.0" y1="46.0" x2="379" y2="46.0" stroke="#222" stroke-width="0.9"/>
<line x1="377.0" y1="40.8" x2="379" y2="40.8" stroke="#222" stroke-width="0.9"/>
<line x1="377.0" y1="35.6" x2="379" y2="35.6" stroke="#222" stroke-width="0.9"/>
<text transform="translate(372.4,31.5) rotate(-90) scale(1,0.7)" font-family='"Liberation Sans", sans-serif' font-size="7.2" text-anchor="middle" dominant-baseline="central" fill="#222" stroke="#222" stroke-width="0.15">200</text>
<line x1="375.5" y1="31.5" x2="379" y2="31.5" stroke="#222" stroke-width="0.9"/>
<text transform="translate(372.4,58.1) rotate(-90) scale(1,0.7)" font-family='"Liberation Sans", sans-serif' font-size="7.2" text-anchor="middle" dominant-baseline="central" fill="#222" stroke="#222" stroke-width="0.15">160</text>
<line x1="375.5" y1="58.1" x2="379" y2="58.1" stroke="#222" stroke-width="0.9"/>
<text transform="translate(372.4,85) rotate(-90) scale(1,0.7)" font-family='"Liberation Sans", sans-serif' font-size="7.2" text-anchor="middle" dominant-baseline="central" fill="#222" stroke="#222" stroke-width="0.15">120</text>
<line x1="375.5" y1="85" x2="379" y2="85" stroke="#222" stroke-width="0.9"/>
<text transform="translate(372.4,112.2) rotate(-90) scale(1,0.7)" font-family='"Liberation Sans", sans-serif' font-size="7.2" text-anchor="middle" dominant-baseline="central" fill="#222" stroke="#222" stroke-width="0.15">80</text>
<line x1="375.5" y1="112.2" x2="379" y2="112.2" stroke="#222" stroke-width="0.9"/>
<text transform="translate(372.4,139.1) rotate(-90) scale(1,0.7)" font-family='"Liberation Sans", sans-serif' font-size="7.2" text-anchor="middle" dominant-baseline="central" fill="#222" stroke="#222" stroke-width="0.15">40</text>
<line x1="375.5" y1="139.1" x2="379" y2="139.1" stroke="#222" stroke-width="0.9"/>
<text transform="translate(372.4,166) rotate(-90) scale(1,0.7)" font-family='"Liberation Sans", sans-serif' font-size="7.2" text-anchor="middle" dominant-baseline="central" fill="#222" stroke="#222" stroke-width="0.15">0</text>
<line x1="375.5" y1="166" x2="379" y2="166" stroke="#222" stroke-width="0.9"/>
<line x1="379.0" y1="165.6" x2="379.0" y2="168.6" stroke="#222" stroke-width="0.8"/>
<line x1="386.4" y1="165.6" x2="386.4" y2="167.6" stroke="#222" stroke-width="0.8"/>
<line x1="390.7" y1="165.6" x2="390.7" y2="167.6" stroke="#222" stroke-width="0.8"/>
<line x1="393.8" y1="165.6" x2="393.8" y2="167.6" stroke="#222" stroke-width="0.8"/>
<line x1="396.1" y1="165.6" x2="396.1" y2="167.6" stroke="#222" stroke-width="0.8"/>
<line x1="398.1" y1="165.6" x2="398.1" y2="167.6" stroke="#222" stroke-width="0.8"/>
<line x1="399.7" y1="165.6" x2="399.7" y2="167.6" stroke="#222" stroke-width="0.8"/>
<line x1="401.1" y1="165.6" x2="401.1" y2="167.6" stroke="#222" stroke-width="0.8"/>
<line x1="402.4" y1="165.6" x2="402.4" y2="167.6" stroke="#222" stroke-width="0.8"/>
<line x1="403.5" y1="165.6" x2="403.5" y2="168.6" stroke="#222" stroke-width="0.8"/>
<line x1="410.9" y1="165.6" x2="410.9" y2="167.6" stroke="#222" stroke-width="0.8"/>
<line x1="415.2" y1="165.6" x2="415.2" y2="167.6" stroke="#222" stroke-width="0.8"/>
<line x1="418.3" y1="165.6" x2="418.3" y2="167.6" stroke="#222" stroke-width="0.8"/>
<line x1="420.6" y1="165.6" x2="420.6" y2="167.6" stroke="#222" stroke-width="0.8"/>
<line x1="422.6" y1="165.6" x2="422.6" y2="167.6" stroke="#222" stroke-width="0.8"/>
<line x1="424.2" y1="165.6" x2="424.2" y2="167.6" stroke="#222" stroke-width="0.8"/>
<line x1="425.6" y1="165.6" x2="425.6" y2="167.6" stroke="#222" stroke-width="0.8"/>
<line x1="426.9" y1="165.6" x2="426.9" y2="167.6" stroke="#222" stroke-width="0.8"/>
<line x1="428.0" y1="165.6" x2="428.0" y2="168.6" stroke="#222" stroke-width="0.8"/>
<line x1="435.4" y1="165.6" x2="435.4" y2="167.6" stroke="#222" stroke-width="0.8"/>
<line x1="439.7" y1="165.6" x2="439.7" y2="167.6" stroke="#222" stroke-width="0.8"/>
<line x1="442.8" y1="165.6" x2="442.8" y2="167.6" stroke="#222" stroke-width="0.8"/>
<line x1="445.1" y1="165.6" x2="445.1" y2="167.6" stroke="#222" stroke-width="0.8"/>
<line x1="447.1" y1="165.6" x2="447.1" y2="167.6" stroke="#222" stroke-width="0.8"/>
<line x1="448.7" y1="165.6" x2="448.7" y2="167.6" stroke="#222" stroke-width="0.8"/>
<line x1="450.1" y1="165.6" x2="450.1" y2="167.6" stroke="#222" stroke-width="0.8"/>
<line x1="451.4" y1="165.6" x2="451.4" y2="167.6" stroke="#222" stroke-width="0.8"/>
<line x1="452.5" y1="165.6" x2="452.5" y2="168.6" stroke="#222" stroke-width="0.8"/>
<line x1="459.9" y1="165.6" x2="459.9" y2="167.6" stroke="#222" stroke-width="0.8"/>
<line x1="464.2" y1="165.6" x2="464.2" y2="167.6" stroke="#222" stroke-width="0.8"/>
<line x1="467.3" y1="165.6" x2="467.3" y2="167.6" stroke="#222" stroke-width="0.8"/>
<line x1="469.6" y1="165.6" x2="469.6" y2="167.6" stroke="#222" stroke-width="0.8"/>
<line x1="471.6" y1="165.6" x2="471.6" y2="167.6" stroke="#222" stroke-width="0.8"/>
<line x1="473.2" y1="165.6" x2="473.2" y2="167.6" stroke="#222" stroke-width="0.8"/>
<line x1="474.6" y1="165.6" x2="474.6" y2="167.6" stroke="#222" stroke-width="0.8"/>
<line x1="475.9" y1="165.6" x2="475.9" y2="167.6" stroke="#222" stroke-width="0.8"/>
<line x1="477" y1="165.6" x2="477" y2="168.6" stroke="#222" stroke-width="0.8"/>
<text transform="translate(378.2,178.6) scale(0.62,1)" font-family='"Liberation Sans", sans-serif' font-size="7" text-anchor="middle" fill="#444" stroke="#444" stroke-width="0.15">10</text>
<text transform="translate(381.8,173.6) scale(0.62,1)" font-family='"Liberation Sans", sans-serif' font-size="4.2" text-anchor="middle" fill="#444" stroke="#444" stroke-width="0.15">0</text>
<text transform="translate(402.7,178.6) scale(0.62,1)" font-family='"Liberation Sans", sans-serif' font-size="7" text-anchor="middle" fill="#444" stroke="#444" stroke-width="0.15">10</text>
<text transform="translate(406.3,173.6) scale(0.62,1)" font-family='"Liberation Sans", sans-serif' font-size="4.2" text-anchor="middle" fill="#444" stroke="#444" stroke-width="0.15">1</text>
<text transform="translate(427.2,178.6) scale(0.62,1)" font-family='"Liberation Sans", sans-serif' font-size="7" text-anchor="middle" fill="#444" stroke="#444" stroke-width="0.15">10</text>
<text transform="translate(430.8,173.6) scale(0.62,1)" font-family='"Liberation Sans", sans-serif' font-size="4.2" text-anchor="middle" fill="#444" stroke="#444" stroke-width="0.15">2</text>
<text transform="translate(451.7,178.6) scale(0.62,1)" font-family='"Liberation Sans", sans-serif' font-size="7" text-anchor="middle" fill="#444" stroke="#444" stroke-width="0.15">10</text>
<text transform="translate(455.3,173.6) scale(0.62,1)" font-family='"Liberation Sans", sans-serif' font-size="4.2" text-anchor="middle" fill="#444" stroke="#444" stroke-width="0.15">3</text>
<text transform="translate(476.2,178.6) scale(0.62,1)" font-family='"Liberation Sans", sans-serif' font-size="7" text-anchor="middle" fill="#444" stroke="#444" stroke-width="0.15">10</text>
<text transform="translate(479.8,173.6) scale(0.62,1)" font-family='"Liberation Sans", sans-serif' font-size="4.2" text-anchor="middle" fill="#444" stroke="#444" stroke-width="0.15">4</text>
<polygon points="379.7,165.6 379.7,157.0 382.0,146.8 383.7,119.6 385.4,89.0 386.5,70.3 388.2,62.7 390.0,72.0 391.0,89.0 392.2,104.3 393.0,117.9 394.4,133.2 396.1,146.8 398.1,155.3 401.5,161.3 406.6,163.8 411.7,163.0 416.8,165.5 416.8,165.6" fill="#c8c8c8" stroke="none" stroke-width="0" stroke-linejoin="round"/>
<polyline points="379.7,157.0 382.0,146.8 383.7,119.6 385.4,89.0 386.5,70.3 388.2,62.7 390.0,72.0 391.0,89.0 392.2,104.3 393.0,117.9 394.4,133.2 396.1,146.8 398.1,155.3 401.5,161.3 406.6,163.8 411.7,163.0 416.8,165.5" fill="none" stroke="#000" stroke-width="1.15" stroke-linejoin="round"/>
<polyline points="379.4,153.6 381.1,150.2 383.7,136.6 386.2,123.0 388.8,112.8 391.0,107.7 393.0,104.3 394.4,111.1 396.1,109.4 397.3,112.8 399.0,123.0 401.2,134.9 404.1,143.4 406.6,150.2 408.3,153.6 409.2,148.5 410.9,155.3 413.4,159.6 416.8,163.0 421.9,164.7 426.0,164.0 430.0,165.0 436.0,164.5 442.0,165.0 448.0,164.3 455.0,165.0 462.0,164.5 470.0,165.0 476.0,164.5" fill="none" stroke="#000" stroke-width="1.1" stroke-linejoin="round"/>
<polyline points="415.0,163.4 417.0,165.0 419.7,162.8 421.9,165.9 423.6,163.5 425.9,164.8 428.0,163.6 430.1,165.7 431.8,163.1 433.5,165.4 436.3,163.5 438.9,165.3 441.4,162.9 443.3,165.6 445.8,163.3 447.5,165.1 449.3,163.1 451.9,165.0 454.6,163.9 456.2,165.3 458.4,162.8 460.5,165.9 462.2,163.5 463.9,165.5 466.6,163.0 468.2,164.9 470.4,162.8 472.1,165.4 474.8,163.3" fill="none" stroke="#333" stroke-width="0.8" stroke-linejoin="round"/>
<line x1="379.6" y1="103" x2="379.6" y2="165" stroke="#000" stroke-width="2.0"/>
<text x="165" y="207.5" font-family='"Liberation Serif", serif' font-size="19" font-weight="bold" text-anchor="start" >Mean Fluorescence Intensity</text>
<text transform="translate(16.2,100.5) rotate(-90)" font-family='"Liberation Serif", serif' font-size="20" font-weight="bold" text-anchor="middle">Cell No.</text>
<path d="M54,253 H233 V398.5 H54 M62,253 V398.5" fill="none" stroke="#000" stroke-width="1.8"/>
<line x1="54" y1="398.5" x2="62" y2="398.5" stroke="#000" stroke-width="1.8"/>
<text x="50" y="404.0" font-family='"Liberation Serif", serif' font-size="16" font-weight="normal" text-anchor="end"  stroke="#000" stroke-width="0.28">0</text>
<line x1="54" y1="374.25" x2="62" y2="374.25" stroke="#000" stroke-width="1.8"/>
<text x="50" y="379.75" font-family='"Liberation Serif", serif' font-size="16" font-weight="normal" text-anchor="end"  stroke="#000" stroke-width="0.28">10</text>
<line x1="54" y1="350.0" x2="62" y2="350.0" stroke="#000" stroke-width="1.8"/>
<text x="50" y="355.5" font-family='"Liberation Serif", serif' font-size="16" font-weight="normal" text-anchor="end"  stroke="#000" stroke-width="0.28">20</text>
<line x1="54" y1="325.75" x2="62" y2="325.75" stroke="#000" stroke-width="1.8"/>
<text x="50" y="331.25" font-family='"Liberation Serif", serif' font-size="16" font-weight="normal" text-anchor="end"  stroke="#000" stroke-width="0.28">30</text>
<line x1="54" y1="301.5" x2="62" y2="301.5" stroke="#000" stroke-width="1.8"/>
<text x="50" y="307.0" font-family='"Liberation Serif", serif' font-size="16" font-weight="normal" text-anchor="end"  stroke="#000" stroke-width="0.28">40</text>
<line x1="54" y1="277.25" x2="62" y2="277.25" stroke="#000" stroke-width="1.8"/>
<text x="50" y="282.75" font-family='"Liberation Serif", serif' font-size="16" font-weight="normal" text-anchor="end"  stroke="#000" stroke-width="0.28">50</text>
<line x1="54" y1="253.0" x2="62" y2="253.0" stroke="#000" stroke-width="1.8"/>
<text x="50" y="258.5" font-family='"Liberation Serif", serif' font-size="16" font-weight="normal" text-anchor="end"  stroke="#000" stroke-width="0.28">60</text>
<line x1="88" y1="398.5" x2="88" y2="406.5" stroke="#000" stroke-width="1.8"/>
<text x="89.6" y="426.6" font-family='"Liberation Serif", serif' font-size="16" font-weight="normal" text-anchor="middle"  stroke="#000" stroke-width="0.28">2</text>
<line x1="114.6" y1="398.5" x2="114.6" y2="406.5" stroke="#000" stroke-width="1.8"/>
<text x="116.19999999999999" y="426.6" font-family='"Liberation Serif", serif' font-size="16" font-weight="normal" text-anchor="middle"  stroke="#000" stroke-width="0.28">4</text>
<line x1="141.2" y1="398.5" x2="141.2" y2="406.5" stroke="#000" stroke-width="1.8"/>
<text x="142.79999999999998" y="426.6" font-family='"Liberation Serif", serif' font-size="16" font-weight="normal" text-anchor="middle"  stroke="#000" stroke-width="0.28">6</text>
<line x1="219.5" y1="398.5" x2="219.5" y2="406.5" stroke="#000" stroke-width="1.8"/>
<text x="221.1" y="426.6" font-family='"Liberation Serif", serif' font-size="16" font-weight="normal" text-anchor="middle"  stroke="#000" stroke-width="0.28">24</text>
<line x1="169.3" y1="404.8" x2="181.2" y2="394.2" stroke="#000" stroke-width="3.6" stroke-linecap="round"/>
<line x1="179.8" y1="404.8" x2="192.7" y2="394.2" stroke="#000" stroke-width="3.6" stroke-linecap="round"/>
<line x1="114.3" y1="310" x2="114.3" y2="349" stroke="#000" stroke-width="1.6"/>
<line x1="110.3" y1="310" x2="118.3" y2="310" stroke="#000" stroke-width="1.8"/>
<line x1="110.3" y1="349" x2="118.3" y2="349" stroke="#000" stroke-width="1.8"/>
<line x1="127.5" y1="300" x2="127.5" y2="340" stroke="#000" stroke-width="1.6"/>
<line x1="123.5" y1="300" x2="131.5" y2="300" stroke="#000" stroke-width="1.8"/>
<line x1="123.5" y1="340" x2="131.5" y2="340" stroke="#000" stroke-width="1.8"/>
<line x1="140.7" y1="287.2" x2="140.7" y2="332.3" stroke="#000" stroke-width="1.6"/>
<line x1="136.7" y1="287.2" x2="144.7" y2="287.2" stroke="#000" stroke-width="1.8"/>
<line x1="136.7" y1="332.3" x2="144.7" y2="332.3" stroke="#000" stroke-width="1.8"/>
<line x1="219.2" y1="261.7" x2="219.2" y2="335.6" stroke="#000" stroke-width="1.6"/>
<line x1="215.2" y1="261.7" x2="223.2" y2="261.7" stroke="#000" stroke-width="1.8"/>
<line x1="215.2" y1="272" x2="223.2" y2="272" stroke="#000" stroke-width="1.8"/>
<line x1="215.2" y1="278.7" x2="223.2" y2="278.7" stroke="#000" stroke-width="1.8"/>
<line x1="215.2" y1="308.3" x2="223.2" y2="308.3" stroke="#000" stroke-width="1.8"/>
<line x1="215.2" y1="326.9" x2="223.2" y2="326.9" stroke="#000" stroke-width="1.8"/>
<line x1="215.2" y1="335.6" x2="223.2" y2="335.6" stroke="#000" stroke-width="1.8"/>
<polyline points="75.3,376.6 87.9,360.7 101.1,343.9 114.3,321.3 127.5,312.6 140.7,305.9 219.5,293.6" fill="none" stroke="#000" stroke-width="1.6" stroke-linejoin="round"/>
<polyline points="75.3,376.6 87.9,367.3 101.1,343.9 114.3,320.8 127.5,311.7 140.7,302.1 219.5,293.6" fill="none" stroke="#000" stroke-width="1.6" stroke-linejoin="round"/>
<polyline points="75.3,387.3 87.9,381.0 101.1,369.1 114.3,336.6 127.5,328.0 140.7,318.9 219.5,303.6" fill="none" stroke="#000" stroke-width="1.6" stroke-linejoin="round"/>
<polygon points="71.2,390.8 79.4,390.8 75.3,383.8" fill="#fff" stroke="#000" stroke-width="1.6" stroke-linejoin="miter"/>
<polygon points="83.8,384.5 92.0,384.5 87.9,377.5" fill="#fff" stroke="#000" stroke-width="1.6" stroke-linejoin="miter"/>
<polygon points="97.0,372.6 105.2,372.6 101.1,365.6" fill="#fff" stroke="#000" stroke-width="1.6" stroke-linejoin="miter"/>
<polygon points="110.2,340.1 118.4,340.1 114.3,333.1" fill="#fff" stroke="#000" stroke-width="1.6" stroke-linejoin="miter"/>
<polygon points="123.4,331.5 131.6,331.5 127.5,324.5" fill="#fff" stroke="#000" stroke-width="1.6" stroke-linejoin="miter"/>
<polygon points="136.6,322.4 144.8,322.4 140.7,315.4" fill="#fff" stroke="#000" stroke-width="1.6" stroke-linejoin="miter"/>
<polygon points="215.4,307.1 223.6,307.1 219.5,300.1" fill="#fff" stroke="#000" stroke-width="1.6" stroke-linejoin="miter"/>
<rect x="71.4" y="372.7" width="7.8" height="7.8" fill="#000" stroke="#000" stroke-width="1.4"/>
<rect x="84.0" y="356.8" width="7.8" height="7.8" fill="#000" stroke="#000" stroke-width="1.4"/>
<rect x="97.2" y="340.0" width="7.8" height="7.8" fill="#000" stroke="#000" stroke-width="1.4"/>
<rect x="110.4" y="317.4" width="7.8" height="7.8" fill="#000" stroke="#000" stroke-width="1.4"/>
<rect x="123.6" y="308.7" width="7.8" height="7.8" fill="#000" stroke="#000" stroke-width="1.4"/>
<rect x="136.8" y="302.0" width="7.8" height="7.8" fill="#000" stroke="#000" stroke-width="1.4"/>
<rect x="215.6" y="289.7" width="7.8" height="7.8" fill="#000" stroke="#000" stroke-width="1.4"/>
<circle cx="75.3" cy="376.6" r="3.6" fill="#fff" stroke="#000" stroke-width="1.6"/>
<circle cx="87.9" cy="367.3" r="3.6" fill="#fff" stroke="#000" stroke-width="1.6"/>
<circle cx="101.1" cy="343.9" r="3.6" fill="#fff" stroke="#000" stroke-width="1.6"/>
<circle cx="114.3" cy="320.8" r="3.6" fill="#fff" stroke="#000" stroke-width="1.6"/>
<circle cx="127.5" cy="311.7" r="3.6" fill="#fff" stroke="#000" stroke-width="1.6"/>
<circle cx="140.7" cy="302.1" r="3.6" fill="#fff" stroke="#000" stroke-width="1.6"/>
<circle cx="219.5" cy="293.6" r="3.6" fill="#fff" stroke="#000" stroke-width="1.6"/>
<text x="66.0" y="292.4" font-family='"Liberation Serif", serif' font-size="16" font-weight="normal" text-anchor="start"  stroke="#000" stroke-width="0.28">R+ aCD26</text>
<text x="203" y="285.6" font-family='"Liberation Serif", serif' font-size="16" font-weight="normal" text-anchor="start"  stroke="#000" stroke-width="0.28">R</text>
<text x="150" y="333.5" font-family='"Liberation Serif", serif' font-size="16" font-weight="normal" text-anchor="start"  stroke="#000" stroke-width="0.28">medium</text>
<path d="M275.3,253.5 H456 V396.3 H275.3 M283.3,253.5 V396.3" fill="none" stroke="#000" stroke-width="1.8"/>
<line x1="275.3" y1="396.3" x2="283.3" y2="396.3" stroke="#000" stroke-width="1.8"/>
<text x="270.5" y="401.8" font-family='"Liberation Serif", serif' font-size="16" font-weight="normal" text-anchor="end"  stroke="#000" stroke-width="0.28">0</text>
<line x1="275.3" y1="372.5" x2="283.3" y2="372.5" stroke="#000" stroke-width="1.8"/>
<text x="270.5" y="378.0" font-family='"Liberation Serif", serif' font-size="16" font-weight="normal" text-anchor="end"  stroke="#000" stroke-width="0.28">10</text>
<line x1="275.3" y1="348.70000000000005" x2="283.3" y2="348.70000000000005" stroke="#000" stroke-width="1.8"/>
<text x="270.5" y="354.20000000000005" font-family='"Liberation Serif", serif' font-size="16" font-weight="normal" text-anchor="end"  stroke="#000" stroke-width="0.28">20</text>
<line x1="275.3" y1="324.90000000000003" x2="283.3" y2="324.90000000000003" stroke="#000" stroke-width="1.8"/>
<text x="270.5" y="330.40000000000003" font-family='"Liberation Serif", serif' font-size="16" font-weight="normal" text-anchor="end"  stroke="#000" stroke-width="0.28">30</text>
<line x1="275.3" y1="301.1" x2="283.3" y2="301.1" stroke="#000" stroke-width="1.8"/>
<text x="270.5" y="306.6" font-family='"Liberation Serif", serif' font-size="16" font-weight="normal" text-anchor="end"  stroke="#000" stroke-width="0.28">40</text>
<line x1="275.3" y1="277.3" x2="283.3" y2="277.3" stroke="#000" stroke-width="1.8"/>
<text x="270.5" y="282.8" font-family='"Liberation Serif", serif' font-size="16" font-weight="normal" text-anchor="end"  stroke="#000" stroke-width="0.28">50</text>
<line x1="275.3" y1="253.50000000000003" x2="283.3" y2="253.50000000000003" stroke="#000" stroke-width="1.8"/>
<text x="270.5" y="259.0" font-family='"Liberation Serif", serif' font-size="16" font-weight="normal" text-anchor="end"  stroke="#000" stroke-width="0.28">60</text>
<line x1="310.4" y1="396.3" x2="310.4" y2="404.3" stroke="#000" stroke-width="1.8"/>
<text x="310.4" y="425.5" font-family='"Liberation Serif", serif' font-size="16" font-weight="normal" text-anchor="middle"  stroke="#000" stroke-width="0.28">2</text>
<line x1="336.6" y1="396.3" x2="336.6" y2="404.3" stroke="#000" stroke-width="1.8"/>
<text x="336.6" y="425.5" font-family='"Liberation Serif", serif' font-size="16" font-weight="normal" text-anchor="middle"  stroke="#000" stroke-width="0.28">4</text>
<line x1="363.8" y1="396.3" x2="363.8" y2="404.3" stroke="#000" stroke-width="1.8"/>
<text x="363.8" y="425.5" font-family='"Liberation Serif", serif' font-size="16" font-weight="normal" text-anchor="middle"  stroke="#000" stroke-width="0.28">6</text>
<line x1="442.3" y1="396.3" x2="442.3" y2="404.3" stroke="#000" stroke-width="1.8"/>
<text x="442.3" y="425.5" font-family='"Liberation Serif", serif' font-size="16" font-weight="normal" text-anchor="middle"  stroke="#000" stroke-width="0.28">24</text>
<line x1="391.6" y1="404.3" x2="403.4" y2="393.7" stroke="#000" stroke-width="3.6" stroke-linecap="round"/>
<line x1="403.8" y1="404.3" x2="415.5" y2="393.7" stroke="#000" stroke-width="3.6" stroke-linecap="round"/>
<line x1="336.2" y1="324.4" x2="336.2" y2="334" stroke="#000" stroke-width="1.6"/>
<line x1="332.2" y1="324.4" x2="340.2" y2="324.4" stroke="#000" stroke-width="1.8"/>
<line x1="349.7" y1="315.5" x2="349.7" y2="337" stroke="#000" stroke-width="1.6"/>
<line x1="345.7" y1="315.5" x2="353.7" y2="315.5" stroke="#000" stroke-width="1.8"/>
<line x1="363.3" y1="302.8" x2="363.3" y2="318" stroke="#000" stroke-width="1.6"/>
<line x1="359.3" y1="302.8" x2="367.3" y2="302.8" stroke="#000" stroke-width="1.8"/>
<line x1="336.2" y1="336" x2="336.2" y2="346.2" stroke="#000" stroke-width="1.6"/>
<line x1="332.2" y1="346.2" x2="340.2" y2="346.2" stroke="#000" stroke-width="1.8"/>
<line x1="442.3" y1="271.3" x2="442.3" y2="333.5" stroke="#000" stroke-width="1.6"/>
<line x1="438.3" y1="271.3" x2="446.3" y2="271.3" stroke="#000" stroke-width="1.8"/>
<polyline points="296.8,391.9 310.4,387.1 322.8,381.3 336.2,377.0 349.7,371.0 363.3,364.8 442.3,362.6" fill="none" stroke="#000" stroke-width="1.6" stroke-linejoin="round"/>
<polyline points="296.8,375.8 310.4,369.1 322.8,360.8 336.2,353.8 349.7,341.9 363.3,327.7 442.3,322.4" fill="none" stroke="#000" stroke-width="1.6" stroke-linejoin="round"/>
<polyline points="296.8,386.4 310.4,379.7 322.8,368.3 336.2,334.9 349.7,327.5 363.3,317.5 442.3,304.2" fill="none" stroke="#000" stroke-width="1.6" stroke-linejoin="round"/>
<circle cx="296.8" cy="391.9" r="3.9" fill="#000" stroke="#000" stroke-width="1.6"/>
<circle cx="310.4" cy="387.1" r="3.9" fill="#000" stroke="#000" stroke-width="1.6"/>
<circle cx="322.8" cy="381.3" r="3.9" fill="#000" stroke="#000" stroke-width="1.6"/>
<circle cx="336.2" cy="377.0" r="3.9" fill="#000" stroke="#000" stroke-width="1.6"/>
<circle cx="349.7" cy="371.0" r="3.9" fill="#000" stroke="#000" stroke-width="1.6"/>
<circle cx="363.3" cy="364.8" r="3.9" fill="#000" stroke="#000" stroke-width="1.6"/>
<circle cx="442.3" cy="362.6" r="3.9" fill="#000" stroke="#000" stroke-width="1.6"/>
<rect x="292.9" y="371.9" width="7.8" height="7.8" fill="#000" stroke="#000" stroke-width="1.4"/>
<rect x="306.5" y="365.2" width="7.8" height="7.8" fill="#000" stroke="#000" stroke-width="1.4"/>
<rect x="318.9" y="356.9" width="7.8" height="7.8" fill="#000" stroke="#000" stroke-width="1.4"/>
<rect x="332.3" y="349.9" width="7.8" height="7.8" fill="#000" stroke="#000" stroke-width="1.4"/>
<rect x="345.8" y="338.0" width="7.8" height="7.8" fill="#000" stroke="#000" stroke-width="1.4"/>
<rect x="359.4" y="323.8" width="7.8" height="7.8" fill="#000" stroke="#000" stroke-width="1.4"/>
<rect x="438.4" y="318.5" width="7.8" height="7.8" fill="#000" stroke="#000" stroke-width="1.4"/>
<polygon points="292.7,389.9 300.9,389.9 296.8,382.9" fill="#fff" stroke="#000" stroke-width="1.6" stroke-linejoin="miter"/>
<polygon points="306.3,383.2 314.5,383.2 310.4,376.2" fill="#fff" stroke="#000" stroke-width="1.6" stroke-linejoin="miter"/>
<polygon points="318.7,371.8 326.9,371.8 322.8,364.8" fill="#fff" stroke="#000" stroke-width="1.6" stroke-linejoin="miter"/>
<polygon points="332.1,338.4 340.3,338.4 336.2,331.4" fill="#fff" stroke="#000" stroke-width="1.6" stroke-linejoin="miter"/>
<polygon points="345.6,331.0 353.8,331.0 349.7,324.0" fill="#fff" stroke="#000" stroke-width="1.6" stroke-linejoin="miter"/>
<polygon points="359.2,321.0 367.4,321.0 363.3,314.0" fill="#fff" stroke="#000" stroke-width="1.6" stroke-linejoin="miter"/>
<polygon points="438.2,307.7 446.4,307.7 442.3,300.7" fill="#fff" stroke="#000" stroke-width="1.6" stroke-linejoin="miter"/>
<text x="311" y="364.38" font-family='"Liberation Serif", serif' font-size="16" font-weight="normal" text-anchor="middle" fill="#111" stroke="#000" stroke-width="0.28">*</text>
<text x="321.5" y="353.88" font-family='"Liberation Serif", serif' font-size="16" font-weight="normal" text-anchor="middle" fill="#111" stroke="#000" stroke-width="0.28">*</text>
<text x="336.6" y="372.38" font-family='"Liberation Serif", serif' font-size="16" font-weight="normal" text-anchor="middle" fill="#111" stroke="#000" stroke-width="0.28">*</text>
<text x="350.3" y="363.47999999999996" font-family='"Liberation Serif", serif' font-size="16" font-weight="normal" text-anchor="middle" fill="#111" stroke="#000" stroke-width="0.28">*</text>
<text x="363.8" y="349.68" font-family='"Liberation Serif", serif' font-size="16" font-weight="normal" text-anchor="middle" fill="#111" stroke="#000" stroke-width="0.28">*</text>
<text x="451.9" y="329.58" font-family='"Liberation Serif", serif' font-size="16" font-weight="normal" text-anchor="middle" fill="#111" stroke="#000" stroke-width="0.28">*</text>
<text x="367" y="298.8" font-family='"Liberation Serif", serif' font-size="16" font-weight="normal" text-anchor="start"  stroke="#000" stroke-width="0.28">medium</text>
<rect x="436" y="334" width="82" height="21" fill="#fff"/>
<text x="437.6" y="349.6" font-family='"Liberation Serif", serif' font-size="16.4" font-weight="normal" text-anchor="start"  stroke="#000" stroke-width="0.28">A + a-CD26</text>
<text x="428.3" y="388.3" font-family='"Liberation Serif", serif' font-size="16" font-weight="normal" text-anchor="start"  stroke="#000" stroke-width="0.28">A</text>
<path d="M54.7,474 H232.5 V617.4 H54.7 M62.7,474 V617.4" fill="none" stroke="#000" stroke-width="1.8"/>
<line x1="54.7" y1="617.4" x2="62.7" y2="617.4" stroke="#000" stroke-width="1.8"/>
<text x="51" y="622.9" font-family='"Liberation Serif", serif' font-size="16" font-weight="normal" text-anchor="end"  stroke="#000" stroke-width="0.28">0</text>
<line x1="54.7" y1="596.91" x2="62.7" y2="596.91" stroke="#000" stroke-width="1.8"/>
<text x="51" y="602.41" font-family='"Liberation Serif", serif' font-size="16" font-weight="normal" text-anchor="end"  stroke="#000" stroke-width="0.28">10</text>
<line x1="54.7" y1="576.42" x2="62.7" y2="576.42" stroke="#000" stroke-width="1.8"/>
<text x="51" y="581.92" font-family='"Liberation Serif", serif' font-size="16" font-weight="normal" text-anchor="end"  stroke="#000" stroke-width="0.28">20</text>
<line x1="54.7" y1="555.93" x2="62.7" y2="555.93" stroke="#000" stroke-width="1.8"/>
<text x="51" y="561.43" font-family='"Liberation Serif", serif' font-size="16" font-weight="normal" text-anchor="end"  stroke="#000" stroke-width="0.28">30</text>
<line x1="54.7" y1="535.4399999999999" x2="62.7" y2="535.4399999999999" stroke="#000" stroke-width="1.8"/>
<text x="51" y="540.9399999999999" font-family='"Liberation Serif", serif' font-size="16" font-weight="normal" text-anchor="end"  stroke="#000" stroke-width="0.28">40</text>
<line x1="54.7" y1="514.9499999999999" x2="62.7" y2="514.9499999999999" stroke="#000" stroke-width="1.8"/>
<text x="51" y="520.4499999999999" font-family='"Liberation Serif", serif' font-size="16" font-weight="normal" text-anchor="end"  stroke="#000" stroke-width="0.28">50</text>
<line x1="54.7" y1="494.46" x2="62.7" y2="494.46" stroke="#000" stroke-width="1.8"/>
<text x="51" y="499.96" font-family='"Liberation Serif", serif' font-size="16" font-weight="normal" text-anchor="end"  stroke="#000" stroke-width="0.28">60</text>
<line x1="54.7" y1="473.96999999999997" x2="62.7" y2="473.96999999999997" stroke="#000" stroke-width="1.8"/>
<text x="51" y="479.46999999999997" font-family='"Liberation Serif", serif' font-size="16" font-weight="normal" text-anchor="end"  stroke="#000" stroke-width="0.28">70</text>
<line x1="87.6" y1="617.4" x2="87.6" y2="625.4" stroke="#000" stroke-width="1.8"/>
<text x="88.89999999999999" y="646.6" font-family='"Liberation Serif", serif' font-size="16" font-weight="normal" text-anchor="middle"  stroke="#000" stroke-width="0.28">1</text>
<line x1="111.8" y1="617.4" x2="111.8" y2="625.4" stroke="#000" stroke-width="1.8"/>
<text x="113.1" y="646.6" font-family='"Liberation Serif", serif' font-size="16" font-weight="normal" text-anchor="middle"  stroke="#000" stroke-width="0.28">2</text>
<line x1="136.0" y1="617.4" x2="136.0" y2="625.4" stroke="#000" stroke-width="1.8"/>
<text x="137.3" y="646.6" font-family='"Liberation Serif", serif' font-size="16" font-weight="normal" text-anchor="middle"  stroke="#000" stroke-width="0.28">3</text>
<line x1="160.2" y1="617.4" x2="160.2" y2="625.4" stroke="#000" stroke-width="1.8"/>
<text x="161.5" y="646.6" font-family='"Liberation Serif", serif' font-size="16" font-weight="normal" text-anchor="middle"  stroke="#000" stroke-width="0.28">4</text>
<line x1="184.4" y1="617.4" x2="184.4" y2="625.4" stroke="#000" stroke-width="1.8"/>
<text x="185.70000000000002" y="646.6" font-family='"Liberation Serif", serif' font-size="16" font-weight="normal" text-anchor="middle"  stroke="#000" stroke-width="0.28">5</text>
<line x1="208.6" y1="617.4" x2="208.6" y2="625.4" stroke="#000" stroke-width="1.8"/>
<text x="209.9" y="646.6" font-family='"Liberation Serif", serif' font-size="16" font-weight="normal" text-anchor="middle"  stroke="#000" stroke-width="0.28">6</text>
<line x1="111.8" y1="545.8" x2="111.8" y2="555.7" stroke="#000" stroke-width="1.6"/>
<line x1="107.8" y1="545.8" x2="115.8" y2="545.8" stroke="#000" stroke-width="1.8"/>
<line x1="136.0" y1="525.5" x2="136.0" y2="532.5" stroke="#000" stroke-width="1.6"/>
<line x1="132.0" y1="525.5" x2="140.0" y2="525.5" stroke="#000" stroke-width="1.8"/>
<line x1="184.4" y1="496.75" x2="184.4" y2="503" stroke="#000" stroke-width="1.6"/>
<line x1="180.4" y1="496.75" x2="188.4" y2="496.75" stroke="#000" stroke-width="1.8"/>
<line x1="208.6" y1="490.75" x2="208.6" y2="497.5" stroke="#000" stroke-width="1.6"/>
<line x1="204.6" y1="490.75" x2="212.6" y2="490.75" stroke="#000" stroke-width="1.8"/>
<polyline points="87.6,585.0 111.8,567.2 136.0,536.0 160.2,515.0 184.4,516.2 208.6,508.8" fill="none" stroke="#000" stroke-width="1.6" stroke-linejoin="round"/>
<polyline points="87.6,596.5 111.8,570.0 136.0,539.5 160.2,517.5 184.4,503.0 208.6,497.5" fill="none" stroke="#000" stroke-width="1.6" stroke-linejoin="round"/>
<polyline points="87.6,586.0 111.8,555.7 136.0,532.5 160.2,512.0 184.4,506.0 208.6,500.0" fill="none" stroke="#000" stroke-width="1.6" stroke-linejoin="round"/>
<rect x="83.7" y="581.1" width="7.8" height="7.8" fill="#000" stroke="#000" stroke-width="1.4"/>
<rect x="107.9" y="563.3" width="7.8" height="7.8" fill="#000" stroke="#000" stroke-width="1.4"/>
<rect x="132.1" y="532.1" width="7.8" height="7.8" fill="#000" stroke="#000" stroke-width="1.4"/>
<rect x="156.3" y="511.1" width="7.8" height="7.8" fill="#000" stroke="#000" stroke-width="1.4"/>
<rect x="180.5" y="512.4" width="7.8" height="7.8" fill="#000" stroke="#000" stroke-width="1.4"/>
<rect x="204.7" y="504.9" width="7.8" height="7.8" fill="#000" stroke="#000" stroke-width="1.4"/>
<circle cx="87.6" cy="586.0" r="4.2" fill="#fff" stroke="#000" stroke-width="1.6"/>
<circle cx="111.8" cy="555.7" r="4.2" fill="#fff" stroke="#000" stroke-width="1.6"/>
<circle cx="136.0" cy="532.5" r="4.2" fill="#fff" stroke="#000" stroke-width="1.6"/>
<circle cx="160.2" cy="512.0" r="4.2" fill="#fff" stroke="#000" stroke-width="1.6"/>
<circle cx="184.4" cy="506.0" r="4.2" fill="#fff" stroke="#000" stroke-width="1.6"/>
<circle cx="208.6" cy="500.0" r="4.2" fill="#fff" stroke="#000" stroke-width="1.6"/>
<polygon points="83.5,600.0 91.7,600.0 87.6,593.0" fill="#fff" stroke="#000" stroke-width="1.6" stroke-linejoin="miter"/>
<polygon points="107.7,573.5 115.9,573.5 111.8,566.5" fill="#fff" stroke="#000" stroke-width="1.6" stroke-linejoin="miter"/>
<polygon points="131.9,543.0 140.1,543.0 136.0,536.0" fill="#fff" stroke="#000" stroke-width="1.6" stroke-linejoin="miter"/>
<polygon points="156.1,521.0 164.3,521.0 160.2,514.0" fill="#fff" stroke="#000" stroke-width="1.6" stroke-linejoin="miter"/>
<polygon points="180.3,506.5 188.5,506.5 184.4,499.5" fill="#fff" stroke="#000" stroke-width="1.6" stroke-linejoin="miter"/>
<polygon points="204.5,501.0 212.7,501.0 208.6,494.0" fill="#fff" stroke="#000" stroke-width="1.6" stroke-linejoin="miter"/>
<text x="134.2" y="494.5" font-family='"Liberation Serif", serif' font-size="16" font-weight="normal" text-anchor="start"  stroke="#000" stroke-width="0.28">medium</text>
<text x="107.3" y="537.5" font-family='"Liberation Serif", serif' font-size="16" font-weight="normal" text-anchor="start"  stroke="#000" stroke-width="0.28">R</text>
<text x="155" y="541.3" font-family='"Liberation Serif", serif' font-size="16" font-weight="normal" text-anchor="start"  stroke="#000" stroke-width="0.28">R+ a-CD26</text>
<path d="M276.9,473.2 H451.5 V619 H276.9 M284.9,473.2 V619" fill="none" stroke="#000" stroke-width="1.8"/>
<line x1="276.9" y1="619.0" x2="284.9" y2="619.0" stroke="#000" stroke-width="1.8"/>
<text x="272" y="624.5" font-family='"Liberation Serif", serif' font-size="16" font-weight="normal" text-anchor="end"  stroke="#000" stroke-width="0.28">0</text>
<line x1="276.9" y1="598.17" x2="284.9" y2="598.17" stroke="#000" stroke-width="1.8"/>
<text x="272" y="603.67" font-family='"Liberation Serif", serif' font-size="16" font-weight="normal" text-anchor="end"  stroke="#000" stroke-width="0.28">10</text>
<line x1="276.9" y1="577.34" x2="284.9" y2="577.34" stroke="#000" stroke-width="1.8"/>
<text x="272" y="582.84" font-family='"Liberation Serif", serif' font-size="16" font-weight="normal" text-anchor="end"  stroke="#000" stroke-width="0.28">20</text>
<line x1="276.9" y1="556.51" x2="284.9" y2="556.51" stroke="#000" stroke-width="1.8"/>
<text x="272" y="562.01" font-family='"Liberation Serif", serif' font-size="16" font-weight="normal" text-anchor="end"  stroke="#000" stroke-width="0.28">30</text>
<line x1="276.9" y1="535.68" x2="284.9" y2="535.68" stroke="#000" stroke-width="1.8"/>
<text x="272" y="541.18" font-family='"Liberation Serif", serif' font-size="16" font-weight="normal" text-anchor="end"  stroke="#000" stroke-width="0.28">40</text>
<line x1="276.9" y1="514.85" x2="284.9" y2="514.85" stroke="#000" stroke-width="1.8"/>
<text x="272" y="520.35" font-family='"Liberation Serif", serif' font-size="16" font-weight="normal" text-anchor="end"  stroke="#000" stroke-width="0.28">50</text>
<line x1="276.9" y1="494.02" x2="284.9" y2="494.02" stroke="#000" stroke-width="1.8"/>
<text x="272" y="499.52" font-family='"Liberation Serif", serif' font-size="16" font-weight="normal" text-anchor="end"  stroke="#000" stroke-width="0.28">60</text>
<line x1="276.9" y1="473.19" x2="284.9" y2="473.19" stroke="#000" stroke-width="1.8"/>
<text x="272" y="478.69" font-family='"Liberation Serif", serif' font-size="16" font-weight="normal" text-anchor="end"  stroke="#000" stroke-width="0.28">70</text>
<line x1="309.29999999999995" y1="619" x2="309.29999999999995" y2="627" stroke="#000" stroke-width="1.8"/>
<text x="310.09999999999997" y="647.6" font-family='"Liberation Serif", serif' font-size="16" font-weight="normal" text-anchor="middle"  stroke="#000" stroke-width="0.28">1</text>
<line x1="333.2" y1="619" x2="333.2" y2="627" stroke="#000" stroke-width="1.8"/>
<text x="334.0" y="647.6" font-family='"Liberation Serif", serif' font-size="16" font-weight="normal" text-anchor="middle"  stroke="#000" stroke-width="0.28">2</text>
<line x1="357.09999999999997" y1="619" x2="357.09999999999997" y2="627" stroke="#000" stroke-width="1.8"/>
<text x="357.9" y="647.6" font-family='"Liberation Serif", serif' font-size="16" font-weight="normal" text-anchor="middle"  stroke="#000" stroke-width="0.28">3</text>
<line x1="381.0" y1="619" x2="381.0" y2="627" stroke="#000" stroke-width="1.8"/>
<text x="381.8" y="647.6" font-family='"Liberation Serif", serif' font-size="16" font-weight="normal" text-anchor="middle"  stroke="#000" stroke-width="0.28">4</text>
<line x1="404.9" y1="619" x2="404.9" y2="627" stroke="#000" stroke-width="1.8"/>
<text x="405.7" y="647.6" font-family='"Liberation Serif", serif' font-size="16" font-weight="normal" text-anchor="middle"  stroke="#000" stroke-width="0.28">5</text>
<line x1="428.79999999999995" y1="619" x2="428.79999999999995" y2="627" stroke="#000" stroke-width="1.8"/>
<text x="429.59999999999997" y="647.6" font-family='"Liberation Serif", serif' font-size="16" font-weight="normal" text-anchor="middle"  stroke="#000" stroke-width="0.28">6</text>
<line x1="400.4" y1="496.6" x2="409.4" y2="496.6" stroke="#000" stroke-width="1.8"/>
<line x1="400.4" y1="511.1" x2="409.4" y2="511.1" stroke="#000" stroke-width="1.8"/>
<line x1="400.4" y1="513.6" x2="409.4" y2="513.6" stroke="#000" stroke-width="1.8"/>
<polyline points="309.3,605.3 333.2,587.8 357.1,572.3 381.0,567.7 404.9,556.0 428.8,559.0" fill="none" stroke="#000" stroke-width="1.6" stroke-linejoin="round"/>
<polyline points="309.3,598.8 333.2,561.2 357.1,553.0 381.0,543.7 404.9,534.5 428.8,532.3" fill="none" stroke="#000" stroke-width="1.6" stroke-linejoin="round"/>
<polyline points="309.3,600.5 333.2,573.5 357.1,540.8 381.0,516.9 404.9,506.2 428.8,499.4" fill="none" stroke="#000" stroke-width="1.6" stroke-linejoin="round"/>
<circle cx="309.3" cy="605.3" r="3.9" fill="#000" stroke="#000" stroke-width="1.6"/>
<circle cx="333.2" cy="587.8" r="3.9" fill="#000" stroke="#000" stroke-width="1.6"/>
<circle cx="357.1" cy="572.3" r="3.9" fill="#000" stroke="#000" stroke-width="1.6"/>
<circle cx="381.0" cy="567.7" r="3.9" fill="#000" stroke="#000" stroke-width="1.6"/>
<circle cx="404.9" cy="556.0" r="3.9" fill="#000" stroke="#000" stroke-width="1.6"/>
<circle cx="428.8" cy="559.0" r="3.9" fill="#000" stroke="#000" stroke-width="1.6"/>
<rect x="305.4" y="594.9" width="7.8" height="7.8" fill="#000" stroke="#000" stroke-width="1.4"/>
<rect x="329.3" y="557.3" width="7.8" height="7.8" fill="#000" stroke="#000" stroke-width="1.4"/>
<rect x="353.2" y="549.1" width="7.8" height="7.8" fill="#000" stroke="#000" stroke-width="1.4"/>
<rect x="377.1" y="539.8" width="7.8" height="7.8" fill="#000" stroke="#000" stroke-width="1.4"/>
<rect x="401.0" y="530.6" width="7.8" height="7.8" fill="#000" stroke="#000" stroke-width="1.4"/>
<rect x="424.9" y="528.4" width="7.8" height="7.8" fill="#000" stroke="#000" stroke-width="1.4"/>
<polygon points="305.2,604.0 313.4,604.0 309.3,597.0" fill="#fff" stroke="#000" stroke-width="1.6" stroke-linejoin="miter"/>
<polygon points="329.1,577.0 337.3,577.0 333.2,570.0" fill="#fff" stroke="#000" stroke-width="1.6" stroke-linejoin="miter"/>
<polygon points="353.0,544.3 361.2,544.3 357.1,537.3" fill="#fff" stroke="#000" stroke-width="1.6" stroke-linejoin="miter"/>
<polygon points="376.9,520.4 385.1,520.4 381.0,513.4" fill="#fff" stroke="#000" stroke-width="1.6" stroke-linejoin="miter"/>
<polygon points="400.8,509.7 409.0,509.7 404.9,502.7" fill="#fff" stroke="#000" stroke-width="1.6" stroke-linejoin="miter"/>
<polygon points="424.7,502.9 432.9,502.9 428.8,495.9" fill="#fff" stroke="#000" stroke-width="1.6" stroke-linejoin="miter"/>
<text x="332.2" y="556.1800000000001" font-family='"Liberation Serif", serif' font-size="16" font-weight="normal" text-anchor="middle" fill="#111" stroke="#000" stroke-width="0.28">*</text>
<text x="382.5" y="543.38" font-family='"Liberation Serif", serif' font-size="16" font-weight="normal" text-anchor="middle" fill="#111" stroke="#000" stroke-width="0.28">*</text>
<text x="405.5" y="533.58" font-family='"Liberation Serif", serif' font-size="16" font-weight="normal" text-anchor="middle" fill="#111" stroke="#000" stroke-width="0.28">*</text>
<text x="430.6" y="550.88" font-family='"Liberation Serif", serif' font-size="16" font-weight="normal" text-anchor="middle" fill="#111" stroke="#000" stroke-width="0.28">*</text>
<text x="322.5" y="502.5" font-family='"Liberation Serif", serif' font-size="16" font-weight="normal" text-anchor="start"  stroke="#000" stroke-width="0.28">medium</text>
<rect x="446" y="504" width="10" height="25" fill="#fff"/>
<text x="422.8" y="523" font-family='"Liberation Serif", serif' font-size="16.4" font-weight="normal" text-anchor="start"  stroke="#000" stroke-width="0.28">A + a-CD26</text>
<text x="398.5" y="583" font-family='"Liberation Serif", serif' font-size="16" font-weight="normal" text-anchor="start"  stroke="#000" stroke-width="0.28">A</text>
<text transform="translate(24.5,329) rotate(-90)" font-family='"Liberation Serif", serif' font-size="16.7" font-weight="bold" text-anchor="middle">% migrated T lymphocytes</text>
<text transform="translate(24.5,549.2) rotate(-90)" font-family='"Liberation Serif", serif' font-size="16.7" font-weight="bold" text-anchor="middle">%migrated granulocytes</text>
<text x="222.2" y="671.2" font-family='"Liberation Serif", serif' font-size="18.4" font-weight="bold" text-anchor="start" >Time (h)</text>
</svg>
</body></html>
